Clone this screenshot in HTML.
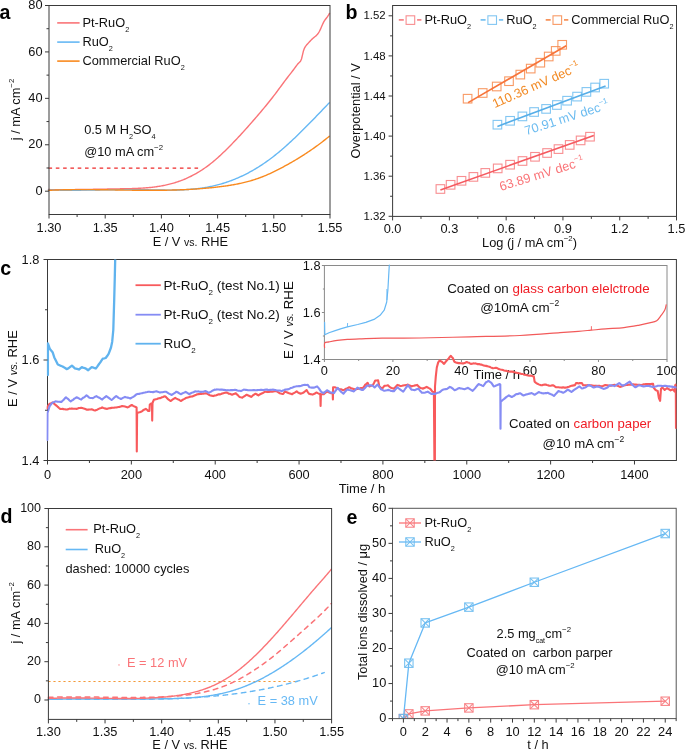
<!DOCTYPE html>
<html><head><meta charset="utf-8"><style>
html,body{margin:0;padding:0;background:#fff;overflow:hidden;}
svg{display:block;font-family:"Liberation Sans",sans-serif;will-change:transform;}
</style></head><body>
<svg width="685" height="750" viewBox="0 0 685 750">
<rect width="685" height="750" fill="#fff"/>
<text x="-0.6" y="18.6" font-size="19.6" text-anchor="start" fill="#000" font-weight="bold" >a</text>
<polyline points="48.5,189.56 49.5,189.57 50.5,189.58 51.5,189.59 52.5,189.6 53.5,189.61 54.5,189.62 55.5,189.62 56.5,189.63 57.5,189.63 58.5,189.64 59.5,189.64 60.5,189.64 61.5,189.64 62.5,189.64 63.5,189.64 64.5,189.64 65.5,189.63 66.5,189.63 67.5,189.63 68.5,189.62 69.5,189.61 70.5,189.61 71.5,189.6 72.5,189.59 73.5,189.59 74.5,189.58 75.5,189.57 76.5,189.56 77.5,189.55 78.5,189.54 79.5,189.52 80.5,189.51 81.5,189.5 82.5,189.49 83.5,189.47 84.5,189.46 85.5,189.44 86.5,189.43 87.5,189.41 88.5,189.4 89.5,189.38 90.5,189.37 91.5,189.35 92.5,189.33 93.5,189.32 94.5,189.3 95.5,189.28 96.5,189.26 97.5,189.24 98.5,189.23 99.5,189.21 100.5,189.19 101.5,189.17 102.5,189.15 103.5,189.13 104.5,189.11 105.5,189.1 106.5,189.08 107.5,189.06 108.5,189.04 109.5,189.02 110.5,189 111.5,188.98 112.5,188.96 113.5,188.94 114.5,188.92 115.5,188.9 116.5,188.89 117.5,188.87 118.5,188.85 119.5,188.83 120.5,188.81 121.5,188.8 122.5,188.78 123.5,188.76 124.5,188.74 125.5,188.72 126.5,188.7 127.5,188.68 128.5,188.66 129.5,188.63 130.5,188.61 131.5,188.58 132.5,188.55 133.5,188.52 134.5,188.48 135.5,188.45 136.5,188.41 137.5,188.36 138.5,188.32 139.5,188.27 140.5,188.21 141.5,188.16 142.5,188.1 143.5,188.03 144.5,187.96 145.5,187.89 146.5,187.81 147.5,187.72 148.5,187.63 149.5,187.54 150.5,187.44 151.5,187.33 152.5,187.22 153.5,187.1 154.5,186.97 155.5,186.84 156.5,186.7 157.5,186.55 158.5,186.4 159.5,186.24 160.5,186.07 161.5,185.9 162.5,185.71 163.5,185.52 164.5,185.32 165.5,185.11 166.5,184.89 167.5,184.67 168.5,184.43 169.5,184.18 170.5,183.93 171.5,183.66 172.5,183.39 173.5,183.1 174.5,182.81 175.5,182.5 176.5,182.18 177.5,181.86 178.5,181.52 179.5,181.17 180.5,180.8 181.5,180.43 182.5,180.04 183.5,179.65 184.5,179.23 185.5,178.81 186.5,178.38 187.5,177.93 188.5,177.47 189.5,176.99 190.5,176.5 191.5,176 192.5,175.49 193.5,174.96 194.5,174.42 195.5,173.87 196.5,173.3 197.5,172.71 198.5,172.12 199.5,171.51 200.5,170.88 201.5,170.24 202.5,169.58 203.5,168.92 204.5,168.23 205.5,167.53 206.5,166.82 207.5,166.09 208.5,165.34 209.5,164.58 210.5,163.81 211.5,163.01 212.5,162.21 213.5,161.38 214.5,160.54 215.5,159.69 216.5,158.82 217.5,157.94 218.5,157.04 219.5,156.13 220.5,155.21 221.5,154.28 222.5,153.33 223.5,152.37 224.5,151.41 225.5,150.43 226.5,149.45 227.5,148.46 228.5,147.46 229.5,146.45 230.5,145.43 231.5,144.41 232.5,143.38 233.5,142.34 234.5,141.3 235.5,140.25 236.5,139.19 237.5,138.13 238.5,137.06 239.5,135.98 240.5,134.9 241.5,133.81 242.5,132.71 243.5,131.61 244.5,130.51 245.5,129.4 246.5,128.28 247.5,127.16 248.5,126.03 249.5,124.9 250.5,123.77 251.5,122.63 252.5,121.48 253.5,120.33 254.5,119.18 255.5,118.02 256.5,116.86 257.5,115.7 258.5,114.53 259.5,113.36 260.5,112.18 261.5,111 262.5,109.82 263.5,108.62 264.5,107.42 265.5,106.21 266.5,104.99 267.5,103.77 268.5,102.53 269.5,101.28 270.5,100.03 271.5,98.76 272.5,97.48 273.5,96.18 274.5,94.87 275.5,93.55 276.5,92.21 277.5,90.87 278.5,89.52 279.5,88.17 280.5,86.81 281.5,85.46 282.5,84.11 283.5,82.76 284.5,81.42 285.5,80.1 286.5,78.78 287.5,77.48 288.5,76.19 289.5,74.9 290.5,73.62 291.5,72.33 292.5,71.03 293.5,69.71 294.5,68.38 295.5,67.03 296.5,65.66 297.5,64.33 298.5,63.18 299.5,62.32 300.5,61.29 301.5,59 302.5,54.83 303.5,50.67 304.5,48.04 305.5,46.35 306.5,45.09 307.5,43.98 308.5,42.86 309.5,41.75 310.5,40.66 311.5,39.63 312.5,38.69 313.5,37.84 314.5,37.06 315.5,36.26 316.5,35.36 317.5,34.28 318.5,32.94 319.5,31.26 320.5,29.17 321.5,26.81 322.5,24.46 323.5,22.35 324.5,20.65 325.5,19.23 326.5,17.95 327.5,16.65 328.5,15.18 329.5,13.41" fill="none" stroke="#fa7478" stroke-width="1.4" stroke-linejoin="round" stroke-linecap="round" />
<polyline points="48.5,189.93 49.5,189.96 50.5,189.99 51.5,190.01 52.5,190.04 53.5,190.06 54.5,190.08 55.5,190.1 56.5,190.12 57.5,190.14 58.5,190.15 59.5,190.17 60.5,190.18 61.5,190.19 62.5,190.2 63.5,190.21 64.5,190.21 65.5,190.22 66.5,190.23 67.5,190.23 68.5,190.23 69.5,190.23 70.5,190.23 71.5,190.23 72.5,190.23 73.5,190.23 74.5,190.22 75.5,190.22 76.5,190.21 77.5,190.21 78.5,190.2 79.5,190.19 80.5,190.18 81.5,190.17 82.5,190.16 83.5,190.15 84.5,190.14 85.5,190.13 86.5,190.12 87.5,190.11 88.5,190.09 89.5,190.08 90.5,190.07 91.5,190.05 92.5,190.04 93.5,190.02 94.5,190.01 95.5,189.99 96.5,189.98 97.5,189.96 98.5,189.95 99.5,189.93 100.5,189.92 101.5,189.9 102.5,189.89 103.5,189.87 104.5,189.85 105.5,189.84 106.5,189.82 107.5,189.81 108.5,189.79 109.5,189.78 110.5,189.77 111.5,189.75 112.5,189.74 113.5,189.73 114.5,189.72 115.5,189.7 116.5,189.69 117.5,189.68 118.5,189.67 119.5,189.66 120.5,189.65 121.5,189.65 122.5,189.64 123.5,189.63 124.5,189.63 125.5,189.62 126.5,189.62 127.5,189.61 128.5,189.61 129.5,189.61 130.5,189.61 131.5,189.61 132.5,189.61 133.5,189.62 134.5,189.62 135.5,189.63 136.5,189.64 137.5,189.64 138.5,189.65 139.5,189.66 140.5,189.68 141.5,189.69 142.5,189.7 143.5,189.72 144.5,189.74 145.5,189.75 146.5,189.77 147.5,189.79 148.5,189.81 149.5,189.83 150.5,189.85 151.5,189.87 152.5,189.89 153.5,189.91 154.5,189.93 155.5,189.94 156.5,189.96 157.5,189.98 158.5,190 159.5,190.01 160.5,190.03 161.5,190.04 162.5,190.05 163.5,190.06 164.5,190.07 165.5,190.08 166.5,190.08 167.5,190.09 168.5,190.09 169.5,190.09 170.5,190.08 171.5,190.08 172.5,190.07 173.5,190.06 174.5,190.04 175.5,190.03 176.5,190.01 177.5,189.98 178.5,189.96 179.5,189.93 180.5,189.89 181.5,189.85 182.5,189.81 183.5,189.77 184.5,189.72 185.5,189.66 186.5,189.6 187.5,189.54 188.5,189.47 189.5,189.4 190.5,189.32 191.5,189.24 192.5,189.16 193.5,189.06 194.5,188.96 195.5,188.86 196.5,188.75 197.5,188.64 198.5,188.52 199.5,188.39 200.5,188.26 201.5,188.12 202.5,187.97 203.5,187.82 204.5,187.66 205.5,187.49 206.5,187.32 207.5,187.14 208.5,186.95 209.5,186.76 210.5,186.56 211.5,186.35 212.5,186.13 213.5,185.91 214.5,185.67 215.5,185.43 216.5,185.19 217.5,184.93 218.5,184.66 219.5,184.39 220.5,184.11 221.5,183.82 222.5,183.52 223.5,183.22 224.5,182.9 225.5,182.58 226.5,182.25 227.5,181.91 228.5,181.56 229.5,181.21 230.5,180.84 231.5,180.47 232.5,180.09 233.5,179.7 234.5,179.3 235.5,178.89 236.5,178.47 237.5,178.05 238.5,177.61 239.5,177.17 240.5,176.72 241.5,176.25 242.5,175.78 243.5,175.3 244.5,174.81 245.5,174.31 246.5,173.81 247.5,173.29 248.5,172.76 249.5,172.23 250.5,171.68 251.5,171.13 252.5,170.56 253.5,169.99 254.5,169.41 255.5,168.82 256.5,168.21 257.5,167.6 258.5,166.98 259.5,166.35 260.5,165.71 261.5,165.05 262.5,164.39 263.5,163.72 264.5,163.04 265.5,162.35 266.5,161.65 267.5,160.94 268.5,160.21 269.5,159.48 270.5,158.74 271.5,157.99 272.5,157.22 273.5,156.45 274.5,155.67 275.5,154.87 276.5,154.07 277.5,153.26 278.5,152.43 279.5,151.6 280.5,150.76 281.5,149.91 282.5,149.05 283.5,148.19 284.5,147.31 285.5,146.43 286.5,145.53 287.5,144.64 288.5,143.73 289.5,142.81 290.5,141.89 291.5,140.97 292.5,140.03 293.5,139.09 294.5,138.14 295.5,137.19 296.5,136.23 297.5,135.26 298.5,134.29 299.5,133.32 300.5,132.33 301.5,131.35 302.5,130.36 303.5,129.36 304.5,128.36 305.5,127.36 306.5,126.35 307.5,125.34 308.5,124.32 309.5,123.31 310.5,122.29 311.5,121.26 312.5,120.23 313.5,119.2 314.5,118.17 315.5,117.14 316.5,116.1 317.5,115.07 318.5,114.03 319.5,112.99 320.5,111.95 321.5,110.9 322.5,109.86 323.5,108.82 324.5,107.77 325.5,106.73 326.5,105.69 327.5,104.64 328.5,103.6 329.2,102.87" fill="none" stroke="#66b8f4" stroke-width="1.4" stroke-linejoin="round" stroke-linecap="round" />
<polyline points="48.5,190.33 49.5,190.28 50.5,190.24 51.5,190.19 52.5,190.15 53.5,190.12 54.5,190.08 55.5,190.04 56.5,190.01 57.5,189.98 58.5,189.95 59.5,189.92 60.5,189.89 61.5,189.86 62.5,189.84 63.5,189.82 64.5,189.8 65.5,189.77 66.5,189.76 67.5,189.74 68.5,189.72 69.5,189.71 70.5,189.69 71.5,189.68 72.5,189.67 73.5,189.66 74.5,189.65 75.5,189.64 76.5,189.64 77.5,189.63 78.5,189.62 79.5,189.62 80.5,189.62 81.5,189.62 82.5,189.62 83.5,189.62 84.5,189.62 85.5,189.62 86.5,189.62 87.5,189.62 88.5,189.63 89.5,189.63 90.5,189.64 91.5,189.65 92.5,189.65 93.5,189.66 94.5,189.67 95.5,189.68 96.5,189.69 97.5,189.7 98.5,189.71 99.5,189.72 100.5,189.73 101.5,189.74 102.5,189.75 103.5,189.77 104.5,189.78 105.5,189.79 106.5,189.81 107.5,189.82 108.5,189.84 109.5,189.85 110.5,189.86 111.5,189.88 112.5,189.89 113.5,189.91 114.5,189.92 115.5,189.94 116.5,189.96 117.5,189.97 118.5,189.99 119.5,190 120.5,190.02 121.5,190.03 122.5,190.05 123.5,190.06 124.5,190.08 125.5,190.09 126.5,190.1 127.5,190.12 128.5,190.13 129.5,190.14 130.5,190.16 131.5,190.17 132.5,190.18 133.5,190.19 134.5,190.21 135.5,190.22 136.5,190.23 137.5,190.24 138.5,190.25 139.5,190.26 140.5,190.26 141.5,190.27 142.5,190.28 143.5,190.28 144.5,190.29 145.5,190.29 146.5,190.3 147.5,190.3 148.5,190.3 149.5,190.31 150.5,190.31 151.5,190.31 152.5,190.31 153.5,190.3 154.5,190.3 155.5,190.3 156.5,190.29 157.5,190.29 158.5,190.28 159.5,190.27 160.5,190.26 161.5,190.25 162.5,190.24 163.5,190.23 164.5,190.21 165.5,190.2 166.5,190.18 167.5,190.16 168.5,190.14 169.5,190.12 170.5,190.1 171.5,190.08 172.5,190.05 173.5,190.03 174.5,190 175.5,189.97 176.5,189.94 177.5,189.91 178.5,189.87 179.5,189.84 180.5,189.8 181.5,189.76 182.5,189.72 183.5,189.68 184.5,189.63 185.5,189.59 186.5,189.54 187.5,189.49 188.5,189.44 189.5,189.38 190.5,189.33 191.5,189.27 192.5,189.21 193.5,189.15 194.5,189.09 195.5,189.02 196.5,188.96 197.5,188.89 198.5,188.81 199.5,188.74 200.5,188.67 201.5,188.59 202.5,188.51 203.5,188.42 204.5,188.34 205.5,188.25 206.5,188.16 207.5,188.07 208.5,187.98 209.5,187.88 210.5,187.78 211.5,187.68 212.5,187.57 213.5,187.47 214.5,187.36 215.5,187.25 216.5,187.13 217.5,187.02 218.5,186.9 219.5,186.77 220.5,186.65 221.5,186.52 222.5,186.39 223.5,186.26 224.5,186.12 225.5,185.98 226.5,185.83 227.5,185.69 228.5,185.53 229.5,185.38 230.5,185.22 231.5,185.05 232.5,184.88 233.5,184.71 234.5,184.53 235.5,184.34 236.5,184.15 237.5,183.96 238.5,183.76 239.5,183.55 240.5,183.33 241.5,183.11 242.5,182.89 243.5,182.66 244.5,182.42 245.5,182.17 246.5,181.92 247.5,181.66 248.5,181.39 249.5,181.11 250.5,180.83 251.5,180.54 252.5,180.24 253.5,179.93 254.5,179.61 255.5,179.29 256.5,178.95 257.5,178.61 258.5,178.26 259.5,177.9 260.5,177.53 261.5,177.15 262.5,176.76 263.5,176.36 264.5,175.95 265.5,175.53 266.5,175.11 267.5,174.67 268.5,174.23 269.5,173.78 270.5,173.32 271.5,172.86 272.5,172.39 273.5,171.91 274.5,171.42 275.5,170.93 276.5,170.43 277.5,169.93 278.5,169.41 279.5,168.9 280.5,168.38 281.5,167.85 282.5,167.31 283.5,166.78 284.5,166.24 285.5,165.69 286.5,165.14 287.5,164.58 288.5,164.02 289.5,163.46 290.5,162.89 291.5,162.32 292.5,161.74 293.5,161.16 294.5,160.57 295.5,159.98 296.5,159.38 297.5,158.78 298.5,158.17 299.5,157.56 300.5,156.94 301.5,156.31 302.5,155.68 303.5,155.04 304.5,154.4 305.5,153.75 306.5,153.1 307.5,152.44 308.5,151.77 309.5,151.1 310.5,150.42 311.5,149.73 312.5,149.03 313.5,148.33 314.5,147.63 315.5,146.91 316.5,146.19 317.5,145.46 318.5,144.72 319.5,143.98 320.5,143.23 321.5,142.47 322.5,141.7 323.5,140.92 324.5,140.14 325.5,139.35 326.5,138.55 327.5,137.74 328.5,136.93 329.2,136.35" fill="none" stroke="#f98a1f" stroke-width="1.4" stroke-linejoin="round" stroke-linecap="round" />
<line x1="48.5" y1="168.2" x2="198.5" y2="168.2" stroke="#ee2a2a" stroke-width="1.2" stroke-dasharray="3.6 3.7"/>
<rect x="49" y="5.5" width="281" height="209" fill="none" stroke="#3a3a3a" stroke-width="1.0"/>
<line x1="49" y1="214.5" x2="49" y2="218.5" stroke="#3a3a3a" stroke-width="1.0" />
<line x1="105.2" y1="214.5" x2="105.2" y2="218.5" stroke="#3a3a3a" stroke-width="1.0" />
<line x1="161.4" y1="214.5" x2="161.4" y2="218.5" stroke="#3a3a3a" stroke-width="1.0" />
<line x1="217.6" y1="214.5" x2="217.6" y2="218.5" stroke="#3a3a3a" stroke-width="1.0" />
<line x1="273.8" y1="214.5" x2="273.8" y2="218.5" stroke="#3a3a3a" stroke-width="1.0" />
<line x1="330" y1="214.5" x2="330" y2="218.5" stroke="#3a3a3a" stroke-width="1.0" />
<line x1="77.1" y1="214.5" x2="77.1" y2="217" stroke="#3a3a3a" stroke-width="1.0" />
<line x1="133.3" y1="214.5" x2="133.3" y2="217" stroke="#3a3a3a" stroke-width="1.0" />
<line x1="189.5" y1="214.5" x2="189.5" y2="217" stroke="#3a3a3a" stroke-width="1.0" />
<line x1="245.7" y1="214.5" x2="245.7" y2="217" stroke="#3a3a3a" stroke-width="1.0" />
<line x1="301.9" y1="214.5" x2="301.9" y2="217" stroke="#3a3a3a" stroke-width="1.0" />
<line x1="45" y1="191.2" x2="49" y2="191.2" stroke="#3a3a3a" stroke-width="1.0" />
<line x1="45" y1="144.77" x2="49" y2="144.77" stroke="#3a3a3a" stroke-width="1.0" />
<line x1="45" y1="98.35" x2="49" y2="98.35" stroke="#3a3a3a" stroke-width="1.0" />
<line x1="45" y1="51.92" x2="49" y2="51.92" stroke="#3a3a3a" stroke-width="1.0" />
<line x1="45" y1="5.5" x2="49" y2="5.5" stroke="#3a3a3a" stroke-width="1.0" />
<line x1="46.5" y1="167.99" x2="49" y2="167.99" stroke="#3a3a3a" stroke-width="1.0" />
<line x1="46.5" y1="121.56" x2="49" y2="121.56" stroke="#3a3a3a" stroke-width="1.0" />
<line x1="46.5" y1="75.13" x2="49" y2="75.13" stroke="#3a3a3a" stroke-width="1.0" />
<line x1="46.5" y1="28.71" x2="49" y2="28.71" stroke="#3a3a3a" stroke-width="1.0" />
<text x="49" y="231.8" font-size="12.8" text-anchor="middle" fill="#111" font-weight="normal" >1.30</text>
<text x="105.2" y="231.8" font-size="12.8" text-anchor="middle" fill="#111" font-weight="normal" >1.35</text>
<text x="161.4" y="231.8" font-size="12.8" text-anchor="middle" fill="#111" font-weight="normal" >1.40</text>
<text x="217.6" y="231.8" font-size="12.8" text-anchor="middle" fill="#111" font-weight="normal" >1.45</text>
<text x="273.8" y="231.8" font-size="12.8" text-anchor="middle" fill="#111" font-weight="normal" >1.50</text>
<text x="330" y="231.8" font-size="12.8" text-anchor="middle" fill="#111" font-weight="normal" >1.55</text>
<text x="42.5" y="194.8" font-size="12.8" text-anchor="end" fill="#111" font-weight="normal" >0</text>
<text x="42.5" y="148.37" font-size="12.8" text-anchor="end" fill="#111" font-weight="normal" >20</text>
<text x="42.5" y="101.95" font-size="12.8" text-anchor="end" fill="#111" font-weight="normal" >40</text>
<text x="42.5" y="55.52" font-size="12.8" text-anchor="end" fill="#111" font-weight="normal" >60</text>
<text x="42.5" y="9.1" font-size="12.8" text-anchor="end" fill="#111" font-weight="normal" >80</text>
<text x="190.3" y="246.1" font-size="12.8" text-anchor="middle" fill="#111" font-weight="normal" >E / V <tspan font-size="10.5">vs.</tspan> RHE</text>
<text transform="translate(20.3,109.5) rotate(-90)" font-size="12.8" text-anchor="middle" fill="#111">j / mA cm<tspan font-size="7.8" baseline-shift="6.3">&#8722;2</tspan></text>
<line x1="57.2" y1="22.9" x2="79.6" y2="22.9" stroke="#fa7478" stroke-width="1.6" />
<text x="82.5" y="27.2" font-size="12.8" text-anchor="start" fill="#111" font-weight="normal" >Pt-RuO<tspan font-size="7.3" baseline-shift="-4.6">2</tspan></text>
<line x1="57.2" y1="42.1" x2="79.6" y2="42.1" stroke="#66b8f4" stroke-width="1.6" />
<text x="82.5" y="46.4" font-size="12.8" text-anchor="start" fill="#111" font-weight="normal" >RuO<tspan font-size="7.3" baseline-shift="-4.6">2</tspan></text>
<line x1="57.2" y1="61.1" x2="79.6" y2="61.1" stroke="#f98a1f" stroke-width="1.6" />
<text x="82.5" y="65.4" font-size="12.8" text-anchor="start" fill="#111" font-weight="normal" >Commercial RuO<tspan font-size="7.3" baseline-shift="-4.6">2</tspan></text>
<text x="84.2" y="134.2" font-size="12.8" text-anchor="start" fill="#111" font-weight="normal" >0.5 M H<tspan font-size="7.3" baseline-shift="-4.6">2</tspan>SO<tspan font-size="7.3" baseline-shift="-4.6">4</tspan></text>
<text x="84.2" y="156" font-size="12.8" text-anchor="start" fill="#111" font-weight="normal" >@10 mA cm<tspan font-size="7.8" baseline-shift="6.3">&#8722;2</tspan></text>
<text x="345.4" y="18.9" font-size="19.6" text-anchor="start" fill="#000" font-weight="bold" >b</text>
<rect x="463.3" y="94.4" width="8.6" height="8.6" fill="none" stroke="#f7884a" stroke-width="1.1" opacity="0.85"/>
<rect x="478.4" y="88.7" width="8.6" height="8.6" fill="none" stroke="#f7884a" stroke-width="1.1" opacity="0.85"/>
<rect x="492.4" y="82.2" width="8.6" height="8.6" fill="none" stroke="#f7884a" stroke-width="1.1" opacity="0.85"/>
<rect x="504.7" y="76.9" width="8.6" height="8.6" fill="none" stroke="#f7884a" stroke-width="1.1" opacity="0.85"/>
<rect x="516" y="70.3" width="8.6" height="8.6" fill="none" stroke="#f7884a" stroke-width="1.1" opacity="0.85"/>
<rect x="526.4" y="64.3" width="8.6" height="8.6" fill="none" stroke="#f7884a" stroke-width="1.1" opacity="0.85"/>
<rect x="536" y="58.4" width="8.6" height="8.6" fill="none" stroke="#f7884a" stroke-width="1.1" opacity="0.85"/>
<rect x="544.4" y="52.2" width="8.6" height="8.6" fill="none" stroke="#f7884a" stroke-width="1.1" opacity="0.85"/>
<rect x="551.4" y="46.6" width="8.6" height="8.6" fill="none" stroke="#f7884a" stroke-width="1.1" opacity="0.85"/>
<rect x="557.9" y="40.5" width="8.6" height="8.6" fill="none" stroke="#f7884a" stroke-width="1.1" opacity="0.85"/>
<rect x="493.1" y="120.4" width="8.6" height="8.6" fill="none" stroke="#6cbcf0" stroke-width="1.1" opacity="0.85"/>
<rect x="505.8" y="116.5" width="8.6" height="8.6" fill="none" stroke="#6cbcf0" stroke-width="1.1" opacity="0.85"/>
<rect x="518.1" y="112.1" width="8.6" height="8.6" fill="none" stroke="#6cbcf0" stroke-width="1.1" opacity="0.85"/>
<rect x="529.8" y="107.7" width="8.6" height="8.6" fill="none" stroke="#6cbcf0" stroke-width="1.1" opacity="0.85"/>
<rect x="541.8" y="104.6" width="8.6" height="8.6" fill="none" stroke="#6cbcf0" stroke-width="1.1" opacity="0.85"/>
<rect x="552.6" y="100.7" width="8.6" height="8.6" fill="none" stroke="#6cbcf0" stroke-width="1.1" opacity="0.85"/>
<rect x="562.8" y="96.4" width="8.6" height="8.6" fill="none" stroke="#6cbcf0" stroke-width="1.1" opacity="0.85"/>
<rect x="572.8" y="92.3" width="8.6" height="8.6" fill="none" stroke="#6cbcf0" stroke-width="1.1" opacity="0.85"/>
<rect x="582.1" y="87.6" width="8.6" height="8.6" fill="none" stroke="#6cbcf0" stroke-width="1.1" opacity="0.85"/>
<rect x="590.8" y="83.2" width="8.6" height="8.6" fill="none" stroke="#6cbcf0" stroke-width="1.1" opacity="0.85"/>
<rect x="599.9" y="79.4" width="8.6" height="8.6" fill="none" stroke="#6cbcf0" stroke-width="1.1" opacity="0.85"/>
<rect x="436.1" y="184.7" width="8.6" height="8.6" fill="none" stroke="#f77a7e" stroke-width="1.1" opacity="0.85"/>
<rect x="446.3" y="180.5" width="8.6" height="8.6" fill="none" stroke="#f77a7e" stroke-width="1.1" opacity="0.85"/>
<rect x="457.2" y="176.5" width="8.6" height="8.6" fill="none" stroke="#f77a7e" stroke-width="1.1" opacity="0.85"/>
<rect x="469.1" y="172.6" width="8.6" height="8.6" fill="none" stroke="#f77a7e" stroke-width="1.1" opacity="0.85"/>
<rect x="481" y="168.6" width="8.6" height="8.6" fill="none" stroke="#f77a7e" stroke-width="1.1" opacity="0.85"/>
<rect x="493.4" y="164.1" width="8.6" height="8.6" fill="none" stroke="#f77a7e" stroke-width="1.1" opacity="0.85"/>
<rect x="505.8" y="160.4" width="8.6" height="8.6" fill="none" stroke="#f77a7e" stroke-width="1.1" opacity="0.85"/>
<rect x="518.2" y="156.7" width="8.6" height="8.6" fill="none" stroke="#f77a7e" stroke-width="1.1" opacity="0.85"/>
<rect x="530.7" y="152.5" width="8.6" height="8.6" fill="none" stroke="#f77a7e" stroke-width="1.1" opacity="0.85"/>
<rect x="542.8" y="148.7" width="8.6" height="8.6" fill="none" stroke="#f77a7e" stroke-width="1.1" opacity="0.85"/>
<rect x="554.2" y="144.8" width="8.6" height="8.6" fill="none" stroke="#f77a7e" stroke-width="1.1" opacity="0.85"/>
<rect x="565.4" y="140.6" width="8.6" height="8.6" fill="none" stroke="#f77a7e" stroke-width="1.1" opacity="0.85"/>
<rect x="576.3" y="136.1" width="8.6" height="8.6" fill="none" stroke="#f77a7e" stroke-width="1.1" opacity="0.85"/>
<rect x="585.7" y="132.4" width="8.6" height="8.6" fill="none" stroke="#f77a7e" stroke-width="1.1" opacity="0.85"/>
<line x1="468.1" y1="102.6" x2="566.2" y2="45.7" stroke="#f7743a" stroke-width="1.6" />
<line x1="497.4" y1="126.4" x2="605.6" y2="86.1" stroke="#56aee8" stroke-width="1.6" />
<line x1="440.4" y1="190" x2="593.8" y2="135.4" stroke="#f55a60" stroke-width="1.6" />
<rect x="392.6" y="5.5" width="283.9" height="210.9" fill="none" stroke="#3a3a3a" stroke-width="1.0"/>
<line x1="392.6" y1="216.4" x2="392.6" y2="220.4" stroke="#3a3a3a" stroke-width="1.0" />
<line x1="449.38" y1="216.4" x2="449.38" y2="220.4" stroke="#3a3a3a" stroke-width="1.0" />
<line x1="506.16" y1="216.4" x2="506.16" y2="220.4" stroke="#3a3a3a" stroke-width="1.0" />
<line x1="562.94" y1="216.4" x2="562.94" y2="220.4" stroke="#3a3a3a" stroke-width="1.0" />
<line x1="619.72" y1="216.4" x2="619.72" y2="220.4" stroke="#3a3a3a" stroke-width="1.0" />
<line x1="676.51" y1="216.4" x2="676.51" y2="220.4" stroke="#3a3a3a" stroke-width="1.0" />
<line x1="420.99" y1="216.4" x2="420.99" y2="218.9" stroke="#3a3a3a" stroke-width="1.0" />
<line x1="477.77" y1="216.4" x2="477.77" y2="218.9" stroke="#3a3a3a" stroke-width="1.0" />
<line x1="534.55" y1="216.4" x2="534.55" y2="218.9" stroke="#3a3a3a" stroke-width="1.0" />
<line x1="591.33" y1="216.4" x2="591.33" y2="218.9" stroke="#3a3a3a" stroke-width="1.0" />
<line x1="648.11" y1="216.4" x2="648.11" y2="218.9" stroke="#3a3a3a" stroke-width="1.0" />
<line x1="388.6" y1="216.3" x2="392.6" y2="216.3" stroke="#3a3a3a" stroke-width="1.0" />
<line x1="388.6" y1="176.2" x2="392.6" y2="176.2" stroke="#3a3a3a" stroke-width="1.0" />
<line x1="388.6" y1="136.1" x2="392.6" y2="136.1" stroke="#3a3a3a" stroke-width="1.0" />
<line x1="388.6" y1="96" x2="392.6" y2="96" stroke="#3a3a3a" stroke-width="1.0" />
<line x1="388.6" y1="55.9" x2="392.6" y2="55.9" stroke="#3a3a3a" stroke-width="1.0" />
<line x1="388.6" y1="15.8" x2="392.6" y2="15.8" stroke="#3a3a3a" stroke-width="1.0" />
<line x1="390.1" y1="196.25" x2="392.6" y2="196.25" stroke="#3a3a3a" stroke-width="1.0" />
<line x1="390.1" y1="156.15" x2="392.6" y2="156.15" stroke="#3a3a3a" stroke-width="1.0" />
<line x1="390.1" y1="116.05" x2="392.6" y2="116.05" stroke="#3a3a3a" stroke-width="1.0" />
<line x1="390.1" y1="75.95" x2="392.6" y2="75.95" stroke="#3a3a3a" stroke-width="1.0" />
<line x1="390.1" y1="35.85" x2="392.6" y2="35.85" stroke="#3a3a3a" stroke-width="1.0" />
<text x="392.6" y="233.2" font-size="12.8" text-anchor="middle" fill="#111" font-weight="normal" >0.0</text>
<text x="449.38" y="233.2" font-size="12.8" text-anchor="middle" fill="#111" font-weight="normal" >0.3</text>
<text x="506.16" y="233.2" font-size="12.8" text-anchor="middle" fill="#111" font-weight="normal" >0.6</text>
<text x="562.94" y="233.2" font-size="12.8" text-anchor="middle" fill="#111" font-weight="normal" >0.9</text>
<text x="619.72" y="233.2" font-size="12.8" text-anchor="middle" fill="#111" font-weight="normal" >1.2</text>
<text x="676.51" y="233.2" font-size="12.8" text-anchor="middle" fill="#111" font-weight="normal" >1.5</text>
<text x="385.6" y="219.9" font-size="11.4" text-anchor="end" fill="#111" font-weight="normal" >1.32</text>
<text x="385.6" y="179.8" font-size="11.4" text-anchor="end" fill="#111" font-weight="normal" >1.36</text>
<text x="385.6" y="139.7" font-size="11.4" text-anchor="end" fill="#111" font-weight="normal" >1.40</text>
<text x="385.6" y="99.6" font-size="11.4" text-anchor="end" fill="#111" font-weight="normal" >1.44</text>
<text x="385.6" y="59.5" font-size="11.4" text-anchor="end" fill="#111" font-weight="normal" >1.48</text>
<text x="385.6" y="19.4" font-size="11.4" text-anchor="end" fill="#111" font-weight="normal" >1.52</text>
<text x="529.5" y="246.5" font-size="12.8" text-anchor="middle" fill="#111" font-weight="normal" >Log (j / mA cm<tspan font-size="7.8" baseline-shift="6.3">&#8722;2</tspan>)</text>
<text transform="translate(359.9,110.9) rotate(-90)" font-size="12.8" text-anchor="middle" fill="#111">Overpotential / V</text>
<line x1="398.8" y1="19.9" x2="403.8" y2="19.9" stroke="#f77a7e" stroke-width="1.6" />
<line x1="417.1" y1="19.9" x2="421.4" y2="19.9" stroke="#f77a7e" stroke-width="1.6" />
<rect x="406.1" y="15.8" width="8.6" height="8.6" fill="none" stroke="#f77a7e" stroke-width="1.1" opacity="0.85"/>
<text x="424.4" y="23.9" font-size="12.8" text-anchor="start" fill="#111" font-weight="normal" >Pt-RuO<tspan font-size="7.3" baseline-shift="-4.6">2</tspan></text>
<line x1="480.6" y1="19.9" x2="485.6" y2="19.9" stroke="#6cbcf0" stroke-width="1.6" />
<line x1="498.9" y1="19.9" x2="503.2" y2="19.9" stroke="#6cbcf0" stroke-width="1.6" />
<rect x="487.9" y="15.8" width="8.6" height="8.6" fill="none" stroke="#6cbcf0" stroke-width="1.1" opacity="0.85"/>
<text x="506.2" y="23.9" font-size="12.8" text-anchor="start" fill="#111" font-weight="normal" >RuO<tspan font-size="7.3" baseline-shift="-4.6">2</tspan></text>
<line x1="545.7" y1="19.9" x2="550.7" y2="19.9" stroke="#f7884a" stroke-width="1.6" />
<line x1="564" y1="19.9" x2="568.3" y2="19.9" stroke="#f7884a" stroke-width="1.6" />
<rect x="553" y="15.8" width="8.6" height="8.6" fill="none" stroke="#f7884a" stroke-width="1.1" opacity="0.85"/>
<text x="571.3" y="23.9" font-size="12.8" text-anchor="start" fill="#111" font-weight="normal" >Commercial RuO<tspan font-size="7.3" baseline-shift="-4.6">2</tspan></text>
<text transform="translate(500.95,190.9) rotate(-17.2)" font-size="12.8" fill="#fa7478">63.89 mV dec<tspan font-size="7.8" baseline-shift="6.3">&#8722;1</tspan></text>
<text transform="translate(526.2,135.3) rotate(-17.9)" font-size="12.8" fill="#6cbcf0">70.91 mV dec<tspan font-size="7.8" baseline-shift="6.3">&#8722;1</tspan></text>
<text transform="translate(494.7,108.3) rotate(-24)" font-size="12.8" fill="#f28a24">110.36 mV dec<tspan font-size="7.8" baseline-shift="6.3">&#8722;1</tspan></text>
<text x="0.3" y="275.2" font-size="19.6" text-anchor="start" fill="#000" font-weight="bold" >c</text>
<rect x="324.4" y="265.5" width="342.6" height="94" fill="none" stroke="#8a8a8a" stroke-width="1.0"/>
<line x1="324.4" y1="359.5" x2="324.4" y2="362" stroke="#8a8a8a" stroke-width="1.0" />
<line x1="392.92" y1="359.5" x2="392.92" y2="362" stroke="#8a8a8a" stroke-width="1.0" />
<line x1="461.44" y1="359.5" x2="461.44" y2="362" stroke="#8a8a8a" stroke-width="1.0" />
<line x1="529.96" y1="359.5" x2="529.96" y2="362" stroke="#8a8a8a" stroke-width="1.0" />
<line x1="598.48" y1="359.5" x2="598.48" y2="362" stroke="#8a8a8a" stroke-width="1.0" />
<line x1="667" y1="359.5" x2="667" y2="362" stroke="#8a8a8a" stroke-width="1.0" />
<line x1="358.66" y1="359.5" x2="358.66" y2="361" stroke="#8a8a8a" stroke-width="1.0" />
<line x1="427.18" y1="359.5" x2="427.18" y2="361" stroke="#8a8a8a" stroke-width="1.0" />
<line x1="495.7" y1="359.5" x2="495.7" y2="361" stroke="#8a8a8a" stroke-width="1.0" />
<line x1="564.22" y1="359.5" x2="564.22" y2="361" stroke="#8a8a8a" stroke-width="1.0" />
<line x1="632.74" y1="359.5" x2="632.74" y2="361" stroke="#8a8a8a" stroke-width="1.0" />
<line x1="321.9" y1="359.5" x2="324.4" y2="359.5" stroke="#8a8a8a" stroke-width="1.0" />
<line x1="321.9" y1="312.5" x2="324.4" y2="312.5" stroke="#8a8a8a" stroke-width="1.0" />
<line x1="321.9" y1="265.5" x2="324.4" y2="265.5" stroke="#8a8a8a" stroke-width="1.0" />
<line x1="322.9" y1="336" x2="324.4" y2="336" stroke="#8a8a8a" stroke-width="1.0" />
<line x1="322.9" y1="289" x2="324.4" y2="289" stroke="#8a8a8a" stroke-width="1.0" />
<text x="324.4" y="374.5" font-size="12.8" text-anchor="middle" fill="#111" font-weight="normal" >0</text>
<text x="392.92" y="374.5" font-size="12.8" text-anchor="middle" fill="#111" font-weight="normal" >20</text>
<text x="461.44" y="374.5" font-size="12.8" text-anchor="middle" fill="#111" font-weight="normal" >40</text>
<text x="529.96" y="374.5" font-size="12.8" text-anchor="middle" fill="#111" font-weight="normal" >60</text>
<text x="598.48" y="374.5" font-size="12.8" text-anchor="middle" fill="#111" font-weight="normal" >80</text>
<text x="667" y="374.5" font-size="12.8" text-anchor="middle" fill="#111" font-weight="normal" >100</text>
<text x="320.5" y="363.9" font-size="12.8" text-anchor="end" fill="#111" font-weight="normal" >1.4</text>
<text x="320.5" y="316.9" font-size="12.8" text-anchor="end" fill="#111" font-weight="normal" >1.6</text>
<text x="320.5" y="269.9" font-size="12.8" text-anchor="end" fill="#111" font-weight="normal" >1.8</text>
<text x="473.6" y="379" font-size="13" text-anchor="start" fill="#111" font-weight="normal" >Time / h</text>
<text transform="translate(293.3,320.1) rotate(-90)" font-size="13.3" text-anchor="middle" fill="#111">E / V <tspan font-style="italic" font-size="10.5">vs.</tspan> RHE</text>
<polyline points="324.6,322.4 324.8,334.7 329,332.7 335.2,330.6 341.3,328.6 347.4,326.9 357.7,324.5 365.8,322.4 374,319.4 380.1,315.3 384.2,310.2 386.7,302 387.9,289.7 388.7,275.4 389.3,265.2" fill="none" stroke="#66b8f4" stroke-width="1.2" stroke-linejoin="round" stroke-linecap="round" />
<line x1="347.4" y1="327" x2="347.6" y2="323" stroke="#66b8f4" stroke-width="0.9" />
<line x1="386.9" y1="300" x2="386.9" y2="289" stroke="#66b8f4" stroke-width="0.9" />
<path d="M324.6,348 C324.63,347.15 324.07,343.92 324.8,342.9 C325.53,341.88 326.93,342.32 329,341.9 C331.07,341.48 334.13,340.82 337.2,340.4 C340.27,339.98 343.32,339.67 347.4,339.4 C351.48,339.13 355.9,339 361.7,338.8 C367.5,338.6 372.48,338.33 382.2,338.2 C391.92,338.07 405.37,338.23 420,338 C434.63,337.77 453.33,337.22 470,336.8 C486.67,336.38 505,336.2 520,335.5 C535,334.8 550.3,333.3 560,332.6 C569.7,331.9 573.03,331.7 578.2,331.3 C583.37,330.9 586.43,330.6 591,330.2 C595.57,329.8 600.12,329.33 605.6,328.9 C611.08,328.47 618.42,328.2 623.9,327.6 C629.38,327 634.25,326.08 638.5,325.3 C642.75,324.52 646.37,323.67 649.4,322.9 C652.43,322.13 654.72,321.98 656.7,320.7 C658.68,319.42 659.93,317.03 661.3,315.2 C662.67,313.37 664.07,311.52 664.9,309.7 C665.73,307.88 666.07,305.2 666.3,304.3" fill="none" stroke="#f25a5a" stroke-width="1.2" stroke-linejoin="round" />
<line x1="591.4" y1="330.2" x2="591.4" y2="326.2" stroke="#f25a5a" stroke-width="0.9" />
<rect x="47.5" y="259.5" width="628.9" height="201" fill="none" stroke="#3a3a3a" stroke-width="1.0"/>
<clipPath id="cc"><rect x="46.5" y="259.5" width="630" height="201"/></clipPath>
<g clip-path="url(#cc)">
<polyline points="47.3,408.5 47.5,406.6 48.6,405.17 49.7,403.7 51.15,403.15 52.6,402.5 54.05,403.72 55.5,404.9 56.67,405.81 57.85,406.91 59.03,407.94 60.2,408.9 61.36,409.05 62.52,408.86 63.68,409.12 64.84,409.25 66,409.5 67.18,409.38 68.36,409.19 69.54,408.55 70.72,408.68 71.9,408.4 73.05,408.68 74.2,408.76 75.35,408.82 76.5,408.9 77.67,408.5 78.85,408.01 80.03,408.07 81.2,407.8 82.36,408.06 83.52,408.39 84.68,408.82 85.84,409.25 87,409.8 88.17,409.66 89.35,409.51 90.53,409.53 91.7,409.3 92.87,409.72 94.03,410.15 95.2,410.5 96.2,410.09 97.2,409.7 98.2,409.14 99.2,408.62 100.2,408.21 101.2,408.01 102.2,407.4 103.38,407.93 104.55,408.38 105.73,408.6 106.9,408.9 108.06,408.6 109.22,408.28 110.38,408.09 111.54,407.88 112.7,407.8 113.88,407.7 115.05,407.45 116.23,407.47 117.4,407.2 118.58,406.97 119.75,406.9 120.92,406.42 122.1,406 123.55,406.19 125,406.6 126.4,407.01 127.8,407.4 128.8,406.92 129.8,406.13 130.8,405.48 131.8,405 133.2,405.85 134.6,406.6 135.6,406.93 136.6,407.4 136.8,451.4 137.1,413 138.4,412.53 139.7,412.29 141,411.8 142.2,411.1 143.4,410.03 144.6,409.46 145.8,408.8 147,409.75 148.2,411 149.4,411 149.8,404.6 151.4,403.4 152,403.2 152.2,420.6 152.5,403 153.8,399.8 154.87,399.44 155.93,399.23 157,399 158,398.59 159,398.3 160,398.14 161,397.8 162,397.31 163,396.94 164,396.51 165,396.2 166.1,397.1 167.2,398.44 168.3,399.32 169.4,400.09 170.5,401 171.68,400.33 172.85,399.29 174.02,398.53 175.2,397.8 176.38,398.56 177.56,399.19 178.74,399.56 179.92,400.33 181.1,401 182.25,400.18 183.4,399.38 184.55,398.83 185.7,398.1 186.7,397.8 187.7,397.48 188.7,397.2 189.7,396.83 190.7,396.59 191.7,396.53 192.7,396.4 193.88,395.78 195.05,395.25 196.22,394.77 197.4,394.2 198.7,394.08 200,394 201.16,393.9 202.32,393.69 203.48,393.58 204.64,393.49 205.8,393.2 206.8,393.59 207.8,394.08 208.8,394.7 209.88,395.18 210.95,395.61 212.03,395.68 213.1,396.1 214.2,395.67 215.3,395.57 216.4,395.19 217.5,394.7 218.68,394.33 219.86,394.41 221.04,394.07 222.22,393.57 223.4,393.2 224.85,392.79 226.3,392.5 227.46,392.79 228.62,393.68 229.78,393.77 230.94,394.23 232.1,394.7 233.33,394.12 234.57,393.8 235.8,393.2 237,394.42 238.2,395.59 239.4,396.9 240.85,397.33 242.3,397.6 243.4,396.77 244.5,396.06 245.6,395.46 246.7,394.7 247.8,395.31 248.9,395.8 250,396.28 251.1,396.9 252.2,396.08 253.3,395.06 254.4,394.33 255.5,393.7 256.95,394.52 258.4,395.4 259.5,394.66 260.6,393.99 261.7,393.51 262.8,393.01 263.9,392.37 265,391.8 266,391.74 267,391.87 268,392.08 269,391.97 270,391.8 271.18,391.72 272.36,391.65 273.54,391.44 274.72,391.16 275.9,391.1 277.13,391.64 278.37,392.33 279.6,393.2 280.8,393.56 282,393.84 283.2,394 285,391.4 286.15,391.99 287.3,392.5 288.48,393.02 289.65,393.39 290.82,393.85 292,394.3 293.18,393.43 294.35,392.81 295.52,392.17 296.7,391.4 297.87,392.31 299.03,393.02 300.2,393.7 301.37,393.38 302.53,393.01 303.7,392.5 305.15,391.2 306.6,390 307.75,391.97 308.9,393.7 310.07,394.12 311.23,394.27 312.4,394.6 313.42,394.19 314.45,393.8 315.48,393.06 316.5,392.5 317.77,393.13 319.03,393.66 320.3,394.3 320.6,406 320.9,394.3 322.2,394.31 323.5,394.3 324.67,393.38 325.83,392.51 327,391.4 328.17,392.09 329.33,392.61 330.5,393.1 331.6,393.08 332.7,393 332.9,399.5 333.1,387.3 334.15,387.32 335.2,387.3 336.37,387.96 337.53,388.42 338.7,389 339.88,389.39 341.05,389.3 342.22,389.87 343.4,390.2 344.56,389.61 345.72,388.85 346.88,388.54 348.04,387.91 349.2,387.3 350.38,387.8 351.56,388.5 352.74,388.65 353.92,389.02 355.1,389.6 356.25,389.23 357.4,389.08 358.55,388.68 359.7,388.4 360.97,387.99 362.23,387.94 363.5,387.5 365.3,384.6 366.45,383.82 367.6,382.8 369.3,386.4 370.47,385.99 371.63,385.5 372.8,385.2 374,382.94 375.2,380.5 376.65,380.54 378.1,380.3 379.3,386.4 380.75,387.56 382.2,388.7 383.35,387.12 384.5,385.8 385.67,385.67 386.83,385.52 388,385.2 389.2,386.42 390.4,387.5 391.57,387.94 392.73,388.21 393.9,388.7 395.07,387.41 396.23,386.11 397.4,384.9 398.57,385.21 399.73,385.67 400.9,386.1 402.07,385.82 403.23,385.49 404.4,385.2 405.57,385.11 406.73,384.95 407.9,384.6 409.07,385.17 410.23,385.65 411.4,386.4 412.57,386.06 413.73,385.81 414.9,385.4 416.05,385.21 417.2,384.9 418.4,386.19 419.6,387.5 420.77,388 421.93,388.17 423.1,388.7 424.27,388 425.43,387.48 426.6,386.9 427.77,387.54 428.93,388.14 430.1,388.7 431.25,390.02 432.4,391.6 433.9,392.3 434.4,461 434.9,461 435,386.5 435.8,376.3 436.8,367.5 438.2,362.4 439.7,360.5 440.8,361.22 441.9,361.7 443,362.87 444.1,363.9 445.2,362.36 446.3,361 447.4,359.8 448.5,358.8 449.6,357.14 450.7,355.8 451.75,356.95 452.8,358 454.3,361.7 455.4,362.17 456.5,362.8 457.54,362.89 458.59,363.1 459.63,363.08 460.67,363.2 461.71,363.33 462.76,363.4 463.8,363.4 465.25,362.76 466.7,362 467.8,362.55 468.9,362.67 470,363.55 471.1,363.9 472.2,363.82 473.3,363.39 474.4,363.49 475.5,363.4 476.66,363.7 477.82,364.17 478.98,364.07 480.14,364.36 481.3,364.6 482.48,365.03 483.66,365.41 484.84,365.79 486.02,365.88 487.2,366.1 488.36,366.57 489.52,366.76 490.68,367.38 491.84,367.87 493,368.2 494.45,368.05 495.9,367.8 497.08,368.09 498.26,368.7 499.44,369.24 500.62,369.49 501.8,369.7 502.96,370.03 504.12,370.43 505.28,370.73 506.44,370.84 507.6,371.2 508.76,371.47 509.92,371.6 511.08,371.5 512.24,371.61 513.4,371.9 514.5,372.16 515.6,372.48 516.7,372.89 517.8,373.01 518.9,373.17 520,373.5 521,373.84 522,374 523,373.99 524,374.69 525,374.8 526,374.93 527,375.3 528.13,375.52 529.27,375.77 530.4,375.6 531.53,375.79 532.67,376.17 533.8,376.4 534.6,381.7 536.05,382.87 537.5,383.8 538.67,384.39 539.83,384.84 541,385.2 542.17,385.2 543.35,384.73 544.53,384.63 545.7,384.6 546.87,385.01 548.03,385.33 549.2,385.8 550.23,385.72 551.25,385.6 552.27,385.37 553.3,385.2 554.75,386.35 556.2,387.3 557.38,387.28 558.55,387.31 559.73,387.52 560.9,387.5 562.06,387.62 563.22,387.3 564.38,387.66 565.54,387.64 566.7,387.5 567.88,387.08 569.05,386.7 570.23,386.16 571.4,385.8 572.57,385.61 573.73,385.4 574.9,385.2 576.1,383.1 577.26,383.01 578.42,383.42 579.58,383.13 580.74,383.08 581.9,383.1 583.1,385.2 584.1,385.23 585.1,385.22 586.1,385.21 587.1,385.33 588.1,385.09 589.1,385.06 590.1,385.2 591.25,385.28 592.4,385.47 593.55,385.82 594.7,385.9 595.85,385.67 597,385.8 598.17,385.92 599.35,385.84 600.53,386.22 601.7,386.4 602.87,386.05 604.03,385.6 605.2,385 606.35,385.15 607.5,385.23 608.65,385.51 609.8,385.8 610.97,385.71 612.15,385.31 613.33,385.06 614.5,384.9 615.68,385.14 616.86,385.46 618.04,385.9 619.22,386.43 620.4,386.9 621.55,386.42 622.7,385.94 623.85,385.6 625,385.2 626.17,384.91 627.35,384.97 628.53,384.73 629.7,384.6 630.86,384.6 632.02,384.44 633.18,384.4 634.34,384.53 635.5,384.6 636.68,384.66 637.86,384.68 639.04,384.77 640.22,384.9 641.4,385 642.55,384.64 643.7,384.28 644.85,384.19 646,384 647.01,384.02 648.03,384 649.04,383.95 650.06,384.12 651.07,384.02 652.09,383.88 653.1,383.8 653.6,387.5 655.4,389.9 656.55,390.54 657.7,391 658.9,398 660.1,400.9 661,388.7 662.4,387.5 663.55,388.83 664.7,389.9 665.9,389 667.1,388.1 668.27,389 669.43,389.54 670.6,390.4 671.75,389.79 672.9,389.3 674.7,391.6 675.2,385.2 675.8,384.6 676,428" fill="none" stroke="#f85a5c" stroke-width="2.1" stroke-linejoin="round" stroke-linecap="round" />
<polyline points="47.3,440 47.5,413 48.6,409.54 49.7,406 50.85,404.55 52,403.1 53.17,402.39 54.33,401.91 55.5,401.4 56.68,401.46 57.86,401.79 59.04,401.82 60.22,401.84 61.4,401.9 62.55,400.77 63.7,399.7 64.85,398.38 66,397.3 67.17,398.29 68.35,399.15 69.53,400.48 70.7,401.4 71.86,400.52 73.02,399.93 74.18,398.69 75.34,398.14 76.5,397.3 77.67,397.83 78.85,398.39 80.03,399.12 81.2,399.6 82.26,398.6 83.32,397.62 84.38,397.18 85.44,396.24 86.5,395.3 87.95,396.43 89.4,397.8 90.57,398.03 91.73,397.96 92.9,398.1 94.07,397.4 95.23,396.66 96.4,396.1 97.56,396.79 98.72,397.52 99.88,398 101.04,398.95 102.2,399.6 103.22,398.6 104.25,397.65 105.28,397.02 106.3,396.1 107.36,396.85 108.42,397.61 109.48,398.44 110.54,399.25 111.6,400 112.75,399 113.9,397.91 115.05,396.95 116.2,396.1 117.38,396.95 118.55,397.83 119.73,398.4 120.9,399 121.93,398.45 122.95,397.87 123.97,397.39 125,396.9 126.06,397.27 127.12,397.61 128.18,397.63 129.24,398.09 130.3,398.5 131.75,397.67 133.2,396.9 134.37,396.09 135.53,395.11 136.7,394.2 137.86,393.91 139.02,393.94 140.18,393.5 141.34,393.32 142.5,393.1 143.68,392.75 144.86,392.5 146.04,392.19 147.22,392.02 148.4,391.7 149.55,391.69 150.7,391.93 151.85,391.93 153,392.1 154.17,391.86 155.33,391.43 156.5,391.3 157.67,391.68 158.83,392.14 160,392.6 161.18,392.29 162.36,392.17 163.54,391.96 164.72,391.8 165.9,391.7 167.06,392.35 168.22,393.2 169.38,393.86 170.54,394.34 171.7,395 172.88,394.12 174.05,393.38 175.22,392.62 176.4,391.7 177.57,392.23 178.75,393 179.93,393.67 181.1,394.2 182.25,393.48 183.4,392.88 184.55,392.48 185.7,391.9 186.87,392.62 188.03,393.36 189.2,394.2 190.38,393.48 191.56,392.79 192.74,392.53 193.92,392.01 195.1,391.3 196.26,391.54 197.42,391.54 198.58,391.39 199.74,391.7 200.9,391.9 202.12,391.79 203.35,391.7 204.58,391.34 205.8,391.1 206.8,391.61 207.8,392.24 208.8,392.8 209.96,392.17 211.12,391.57 212.28,390.74 213.44,390.35 214.6,389.6 215.64,389.69 216.69,389.4 217.73,389.45 218.77,389.55 219.81,389.82 220.86,389.57 221.9,389.6 222.94,389.83 223.99,389.84 225.03,389.96 226.07,390.12 227.11,390.22 228.16,390.17 229.2,390.3 230.36,390.16 231.52,389.99 232.68,390.08 233.84,390.04 235,389.9 236.18,390.03 237.36,390.52 238.54,390.71 239.72,390.83 240.9,391.1 242.35,390.33 243.8,389.6 244.83,389.75 245.87,389.85 246.9,389.98 247.93,390.23 248.97,390.23 250,390.2 251.05,390.26 252.1,390.19 253.15,390.09 254.2,390.15 255.25,390.26 256.3,390.27 257.35,390.11 258.4,390 259.5,389.96 260.6,389.84 261.7,389.82 262.8,389.95 263.9,389.89 265,389.8 266,389.65 267,389.65 268,389.86 269,389.93 270,389.89 271,389.83 272,389.74 273,389.6 274.1,389.9 275.2,390 276.3,390.3 277.4,390.44 278.5,390.46 279.6,390.49 280.7,390.84 281.8,391.1 282.87,390.54 283.93,390.2 285,389.6 286.17,389.52 287.33,389.35 288.5,389.2 289.66,388.64 290.82,388.04 291.98,387.72 293.14,387.26 294.3,386.7 295.48,386.53 296.66,386.32 297.84,386.28 299.02,386.17 300.2,386.1 301.38,385.8 302.55,385.28 303.72,385.08 304.9,384.9 306.35,384.94 307.8,384.9 309.5,387.3 310.68,387.47 311.85,387.61 313.02,387.48 314.2,387.6 315.65,386.99 317.1,386.4 318.9,388.4 320.05,390.19 321.2,391.9 322.35,392.44 323.5,393.1 324.67,392.08 325.83,391.26 327,390.2 328.17,390.83 329.33,391.69 330.5,392.5 331.67,392.62 332.83,392.83 334,393.1 335.2,391.25 336.4,389.66 337.6,387.8 338.77,389.18 339.93,390.59 341.1,391.9 342.25,392.76 343.4,393.7 344.57,392.37 345.73,391.07 346.9,389.6 348.07,389.76 349.23,390.01 350.4,390.2 351.57,390.7 352.73,390.97 353.9,391.4 355.07,390.15 356.23,388.94 357.4,387.6 358.57,388.28 359.73,388.98 360.9,389.6 361.9,389.88 362.9,389.9 363.92,388.89 364.95,387.95 365.98,386.84 367,385.8 368.17,385.67 369.33,385.37 370.5,385.2 371.65,385.49 372.8,385.8 374.6,387.5 376.05,385.94 377.5,384.6 378.67,386.18 379.83,387.68 381,389.3 382.17,389.7 383.33,390.39 384.5,390.8 385.67,390.56 386.83,390.3 388,389.9 389.18,390.15 390.36,390.63 391.54,390.97 392.72,391.11 393.9,391.3 395.07,389.86 396.23,388.63 397.4,387.3 398.85,388.53 400.3,389.6 401.75,390.66 403.2,391.6 404.38,390.03 405.55,388.27 406.72,386.76 407.9,385.2 409.07,386.63 410.23,388.1 411.4,389.6 412.57,389.8 413.73,389.99 414.9,390.1 416.07,389.54 417.23,389.09 418.4,388.7 419.57,390.2 420.73,391.44 421.9,392.8 423.05,392.78 424.2,392.8 425.37,392.51 426.53,392.1 427.7,391.6 428.87,392.36 430.03,393.2 431.2,393.9 432.37,393.8 433.53,393.9 434.7,393.9 435.76,393.62 436.82,393.05 437.88,392.72 438.94,392.49 440,392 441.15,390.91 442.3,390 443.48,389.61 444.65,389.3 445.82,389.15 447,389 448.45,387.96 449.9,386.9 451.7,387.8 453.15,388.93 454.6,390.2 455.78,389.77 456.95,389.21 458.12,388.51 459.3,388.1 460.34,388.36 461.38,388.56 462.42,388.74 463.46,388.97 464.5,389.2 465.67,388.78 466.83,388.35 468,387.8 469.18,388.56 470.35,389.38 471.52,390.04 472.7,390.8 473.85,389.62 475,388.4 476.17,386.94 477.33,385.53 478.5,384.1 479.7,384.54 480.9,384.9 482.05,385.61 483.2,386.1 484.65,384.21 486.1,382.2 487.3,381.58 488.5,380.8 489.95,381.9 491.4,382.9 492.55,384.62 493.7,386.4 495.15,385.91 496.6,385.3 497.6,384.98 498.6,384.4 499.6,384.1 500.3,384.5 500.5,428.7 500.7,401.9 501.87,400.78 503.03,399.78 504.2,398.9 505.38,397.89 506.55,396.86 507.72,396.2 508.9,395.4 510.35,396.22 511.8,397 512.83,396.39 513.85,395.93 514.88,395.11 515.9,394.3 516.92,394.1 517.95,394 518.98,393.49 520,393.2 521.17,393.88 522.33,394.82 523.5,395.5 524.67,395.08 525.85,394.52 527.03,394.36 528.2,393.9 529.37,393.62 530.53,393.38 531.7,393.1 533.15,393.87 534.6,394.8 535.62,394.07 536.65,393.49 537.68,392.83 538.7,392 539.88,392.47 541.05,392.87 542.23,393.18 543.4,393.4 544.55,393.2 545.7,393.04 546.85,393.08 548,392.8 549.18,393.46 550.36,394.02 551.54,394.38 552.72,395.2 553.9,395.9 555.05,394.71 556.2,393.6 557.35,392.32 558.5,391 559.67,391.45 560.85,391.81 562.03,392.32 563.2,392.8 564.38,392.14 565.55,391.34 566.73,390.38 567.9,389.6 569.07,390.43 570.23,391.22 571.4,392 572.57,391.06 573.73,390.12 574.9,389.3 576.08,388.58 577.25,387.86 578.42,387.02 579.6,386.4 580.75,387.55 581.9,388.5 583.07,388.23 584.23,387.76 585.4,387.5 586.57,386.59 587.73,385.75 588.9,385 590.08,385.67 591.25,386.14 592.42,386.82 593.6,387.5 594.77,387.16 595.93,386.79 597.1,386.4 598.23,386.73 599.37,387.08 600.5,387.5 601.67,388.04 602.83,388.53 604,388.9 605.17,388.43 606.33,387.96 607.5,387.5 608.65,386.26 609.8,385.2 610.97,385.34 612.15,385.52 613.33,385.83 614.5,386.1 615.67,385.31 616.85,384.79 618.03,383.89 619.2,383.1 620.37,383.95 621.53,384.94 622.7,385.8 623.87,385.18 625.03,384.61 626.2,384 627.37,383.14 628.53,382.43 629.7,381.7 630.85,383.03 632,384.6 633.17,385.53 634.33,386.51 635.5,387.3 636.67,386.65 637.83,385.83 639,385.2 640.17,385.47 641.35,385.67 642.53,386.19 643.7,386.4 644.88,386.17 646.05,385.94 647.23,385.99 648.4,385.8 649.58,386.11 650.75,386.39 651.92,386.62 653.1,386.9 654.25,386.66 655.4,386.42 656.55,386.2 657.7,385.8 658.7,385.78 659.7,385.77 660.7,385.72 661.7,385.86 662.7,385.93 663.7,385.88 664.7,385.8 665.7,385.85 666.7,386.04 667.7,386.24 668.7,386.37 669.7,386.37 670.7,386.52 671.7,386.6 672.9,386.86 674.1,387.18 675.3,387.26 676.5,387.5" fill="none" stroke="#858cf4" stroke-width="2.1" stroke-linejoin="round" stroke-linecap="round" />
<polyline points="47.9,375 47.9,343.4 49.7,348.7 51.15,350.5 52.6,352.2 54.3,357.4 56.1,361 57.8,364.5 59,364.98 60.2,365.6 61.37,366.03 62.53,366.51 63.7,367.1 65.15,368.03 66.6,369.1 67.75,368.61 68.9,368 69.9,367.12 70.9,366.32 71.9,365.6 73.35,366.95 74.8,368.3 75.83,368.53 76.85,368.78 77.88,369.15 78.9,369.5 80.35,368.28 81.8,367.1 82.97,367.58 84.13,367.96 85.3,368.3 86.75,369.24 88.2,370.3 89.37,369.15 90.53,368.11 91.7,367.1 92.72,367.36 93.75,367.72 94.78,368.22 95.8,368.5 97.25,366.58 98.7,364.5 99.72,363.1 100.75,361.7 101.78,360.15 102.8,358.6 104.25,358.37 105.7,358 107.15,356.05 108.6,353.9 109.8,350.78 111,347.5 112.2,341.7 113.3,330 114.2,300 114.8,277 115.2,259.5" fill="none" stroke="#60b3ee" stroke-width="2.3" stroke-linejoin="round" stroke-linecap="round" />
</g>
<line x1="47.5" y1="460.5" x2="47.5" y2="464.5" stroke="#3a3a3a" stroke-width="1.0" />
<line x1="131.35" y1="460.5" x2="131.35" y2="464.5" stroke="#3a3a3a" stroke-width="1.0" />
<line x1="215.21" y1="460.5" x2="215.21" y2="464.5" stroke="#3a3a3a" stroke-width="1.0" />
<line x1="299.06" y1="460.5" x2="299.06" y2="464.5" stroke="#3a3a3a" stroke-width="1.0" />
<line x1="382.92" y1="460.5" x2="382.92" y2="464.5" stroke="#3a3a3a" stroke-width="1.0" />
<line x1="466.77" y1="460.5" x2="466.77" y2="464.5" stroke="#3a3a3a" stroke-width="1.0" />
<line x1="550.62" y1="460.5" x2="550.62" y2="464.5" stroke="#3a3a3a" stroke-width="1.0" />
<line x1="634.48" y1="460.5" x2="634.48" y2="464.5" stroke="#3a3a3a" stroke-width="1.0" />
<line x1="89.43" y1="460.5" x2="89.43" y2="463" stroke="#3a3a3a" stroke-width="1.0" />
<line x1="173.28" y1="460.5" x2="173.28" y2="463" stroke="#3a3a3a" stroke-width="1.0" />
<line x1="257.13" y1="460.5" x2="257.13" y2="463" stroke="#3a3a3a" stroke-width="1.0" />
<line x1="340.99" y1="460.5" x2="340.99" y2="463" stroke="#3a3a3a" stroke-width="1.0" />
<line x1="424.84" y1="460.5" x2="424.84" y2="463" stroke="#3a3a3a" stroke-width="1.0" />
<line x1="508.7" y1="460.5" x2="508.7" y2="463" stroke="#3a3a3a" stroke-width="1.0" />
<line x1="592.55" y1="460.5" x2="592.55" y2="463" stroke="#3a3a3a" stroke-width="1.0" />
<line x1="43.5" y1="460.5" x2="47.5" y2="460.5" stroke="#3a3a3a" stroke-width="1.0" />
<line x1="43.5" y1="360" x2="47.5" y2="360" stroke="#3a3a3a" stroke-width="1.0" />
<line x1="43.5" y1="259.5" x2="47.5" y2="259.5" stroke="#3a3a3a" stroke-width="1.0" />
<line x1="45" y1="410.25" x2="47.5" y2="410.25" stroke="#3a3a3a" stroke-width="1.0" />
<line x1="45" y1="309.75" x2="47.5" y2="309.75" stroke="#3a3a3a" stroke-width="1.0" />
<text x="47.5" y="478.8" font-size="12.8" text-anchor="middle" fill="#111" font-weight="normal" >0</text>
<text x="131.35" y="478.8" font-size="12.8" text-anchor="middle" fill="#111" font-weight="normal" >200</text>
<text x="215.21" y="478.8" font-size="12.8" text-anchor="middle" fill="#111" font-weight="normal" >400</text>
<text x="299.06" y="478.8" font-size="12.8" text-anchor="middle" fill="#111" font-weight="normal" >600</text>
<text x="382.92" y="478.8" font-size="12.8" text-anchor="middle" fill="#111" font-weight="normal" >800</text>
<text x="466.77" y="478.8" font-size="12.8" text-anchor="middle" fill="#111" font-weight="normal" >1000</text>
<text x="550.62" y="478.8" font-size="12.8" text-anchor="middle" fill="#111" font-weight="normal" >1200</text>
<text x="634.48" y="478.8" font-size="12.8" text-anchor="middle" fill="#111" font-weight="normal" >1400</text>
<text x="39.4" y="464.9" font-size="12.8" text-anchor="end" fill="#111" font-weight="normal" >1.4</text>
<text x="39.4" y="364.4" font-size="12.8" text-anchor="end" fill="#111" font-weight="normal" >1.6</text>
<text x="39.4" y="263.9" font-size="12.8" text-anchor="end" fill="#111" font-weight="normal" >1.8</text>
<text x="362" y="492.7" font-size="13" text-anchor="middle" fill="#111" font-weight="normal" >Time / h</text>
<text transform="translate(17.0,368.6) rotate(-90)" font-size="13" text-anchor="middle" fill="#111">E / V <tspan font-style="italic" font-size="11">vs.</tspan> RHE</text>
<line x1="135.5" y1="285.2" x2="160.8" y2="285.2" stroke="#f85a5c" stroke-width="1.8" />
<text x="163.6" y="289.7" font-size="13.5" text-anchor="start" fill="#111" font-weight="normal" >Pt-RuO<tspan font-size="8" baseline-shift="-5">2</tspan> (test No.1)</text>
<line x1="135.5" y1="314.7" x2="160.8" y2="314.7" stroke="#858cf4" stroke-width="1.8" />
<text x="163.6" y="319.2" font-size="13.5" text-anchor="start" fill="#111" font-weight="normal" >Pt-RuO<tspan font-size="8" baseline-shift="-5">2</tspan> (test No.2)</text>
<line x1="135.5" y1="343.7" x2="160.8" y2="343.7" stroke="#60b3ee" stroke-width="1.8" />
<text x="163.6" y="348.2" font-size="13.5" text-anchor="start" fill="#111" font-weight="normal" >RuO<tspan font-size="8" baseline-shift="-5">2</tspan></text>
<text x="447.2" y="293.3" font-size="13.35" text-anchor="start" fill="#111" font-weight="normal" >Coated on <tspan fill="#f01c24">glass carbon elelctrode</tspan></text>
<text x="480.2" y="311.9" font-size="13.4" text-anchor="start" fill="#111" font-weight="normal" >@10mA cm<tspan font-size="8.5" baseline-shift="6.3">&#8722;2</tspan></text>
<text x="509" y="428.4" font-size="13.2" text-anchor="start" fill="#111" font-weight="normal" >Coated on <tspan fill="#f01c24">carbon paper</tspan></text>
<text x="542.6" y="447.8" font-size="13.2" text-anchor="start" fill="#111" font-weight="normal" >@10 mA cm<tspan font-size="8.5" baseline-shift="6.3">&#8722;2</tspan></text>
<text x="0.4" y="523.2" font-size="19.6" text-anchor="start" fill="#000" font-weight="bold" >d</text>
<line x1="48.4" y1="681.5" x2="298" y2="681.5" stroke="#f39a3a" stroke-width="1.1" stroke-dasharray="2.2 2.8"/>
<polyline points="48.4,699.41 49.4,699.39 50.4,699.36 51.4,699.34 52.4,699.32 53.4,699.29 54.4,699.27 55.4,699.25 56.4,699.23 57.4,699.21 58.4,699.2 59.4,699.18 60.4,699.16 61.4,699.15 62.4,699.13 63.4,699.12 64.4,699.1 65.4,699.09 66.4,699.08 67.4,699.07 68.4,699.06 69.4,699.05 70.4,699.04 71.4,699.03 72.4,699.02 73.4,699.01 74.4,699 75.4,698.99 76.4,698.99 77.4,698.98 78.4,698.98 79.4,698.97 80.4,698.97 81.4,698.96 82.4,698.96 83.4,698.95 84.4,698.95 85.4,698.95 86.4,698.95 87.4,698.94 88.4,698.94 89.4,698.94 90.4,698.94 91.4,698.94 92.4,698.94 93.4,698.94 94.4,698.94 95.4,698.94 96.4,698.94 97.4,698.94 98.4,698.94 99.4,698.94 100.4,698.95 101.4,698.95 102.4,698.95 103.4,698.95 104.4,698.95 105.4,698.96 106.4,698.96 107.4,698.96 108.4,698.96 109.4,698.96 110.4,698.97 111.4,698.97 112.4,698.97 113.4,698.97 114.4,698.98 115.4,698.98 116.4,698.98 117.4,698.98 118.4,698.99 119.4,698.99 120.4,698.99 121.4,698.99 122.4,699 123.4,699 124.4,699 125.4,699 126.4,699 127.4,699 128.4,699 129.4,699 130.4,699 131.4,699 132.4,699 133.4,699 134.4,699 135.4,699 136.4,699 137.4,699 138.4,699 139.4,698.99 140.4,698.99 141.4,698.99 142.4,698.98 143.4,698.98 144.4,698.98 145.4,698.97 146.4,698.97 147.4,698.96 148.4,698.95 149.4,698.95 150.4,698.94 151.4,698.93 152.4,698.92 153.4,698.91 154.4,698.9 155.4,698.89 156.4,698.88 157.4,698.87 158.4,698.86 159.4,698.85 160.4,698.83 161.4,698.82 162.4,698.81 163.4,698.79 164.4,698.77 165.4,698.76 166.4,698.74 167.4,698.72 168.4,698.7 169.4,698.68 170.4,698.66 171.4,698.64 172.4,698.61 173.4,698.59 174.4,698.56 175.4,698.53 176.4,698.5 177.4,698.47 178.4,698.43 179.4,698.39 180.4,698.35 181.4,698.31 182.4,698.27 183.4,698.22 184.4,698.17 185.4,698.12 186.4,698.07 187.4,698.01 188.4,697.95 189.4,697.89 190.4,697.82 191.4,697.75 192.4,697.67 193.4,697.6 194.4,697.52 195.4,697.43 196.4,697.34 197.4,697.25 198.4,697.15 199.4,697.05 200.4,696.95 201.4,696.84 202.4,696.73 203.4,696.61 204.4,696.48 205.4,696.36 206.4,696.22 207.4,696.09 208.4,695.94 209.4,695.79 210.4,695.64 211.4,695.48 212.4,695.32 213.4,695.15 214.4,694.97 215.4,694.79 216.4,694.6 217.4,694.41 218.4,694.21 219.4,694.01 220.4,693.79 221.4,693.58 222.4,693.35 223.4,693.12 224.4,692.88 225.4,692.64 226.4,692.39 227.4,692.13 228.4,691.86 229.4,691.59 230.4,691.31 231.4,691.02 232.4,690.72 233.4,690.42 234.4,690.11 235.4,689.79 236.4,689.46 237.4,689.13 238.4,688.78 239.4,688.43 240.4,688.08 241.4,687.71 242.4,687.34 243.4,686.96 244.4,686.57 245.4,686.17 246.4,685.77 247.4,685.35 248.4,684.94 249.4,684.51 250.4,684.08 251.4,683.63 252.4,683.19 253.4,682.73 254.4,682.27 255.4,681.8 256.4,681.32 257.4,680.83 258.4,680.34 259.4,679.84 260.4,679.34 261.4,678.83 262.4,678.31 263.4,677.78 264.4,677.25 265.4,676.7 266.4,676.16 267.4,675.6 268.4,675.04 269.4,674.47 270.4,673.9 271.4,673.32 272.4,672.73 273.4,672.14 274.4,671.54 275.4,670.93 276.4,670.32 277.4,669.7 278.4,669.07 279.4,668.44 280.4,667.8 281.4,667.15 282.4,666.5 283.4,665.84 284.4,665.18 285.4,664.51 286.4,663.83 287.4,663.15 288.4,662.46 289.4,661.77 290.4,661.07 291.4,660.36 292.4,659.65 293.4,658.93 294.4,658.21 295.4,657.48 296.4,656.74 297.4,656 298.4,655.25 299.4,654.5 300.4,653.74 301.4,652.98 302.4,652.21 303.4,651.43 304.4,650.65 305.4,649.87 306.4,649.08 307.4,648.28 308.4,647.48 309.4,646.67 310.4,645.86 311.4,645.04 312.4,644.22 313.4,643.39 314.4,642.56 315.4,641.72 316.4,640.88 317.4,640.03 318.4,639.18 319.4,638.32 320.4,637.46 321.4,636.59 322.4,635.72 323.4,634.84 324.4,633.96 325.4,633.07 326.4,632.18 327.4,631.29 328.4,630.39 329.4,629.48 330.4,628.57 331.3,627.75" fill="none" stroke="#66b8f4" stroke-width="1.4" stroke-linejoin="round" stroke-linecap="round" />
<polyline points="48.4,699.44 49.4,699.42 50.4,699.41 51.4,699.4 52.4,699.38 53.4,699.37 54.4,699.36 55.4,699.35 56.4,699.34 57.4,699.33 58.4,699.32 59.4,699.32 60.4,699.31 61.4,699.3 62.4,699.3 63.4,699.29 64.4,699.29 65.4,699.28 66.4,699.28 67.4,699.27 68.4,699.27 69.4,699.27 70.4,699.27 71.4,699.26 72.4,699.26 73.4,699.26 74.4,699.26 75.4,699.26 76.4,699.26 77.4,699.26 78.4,699.26 79.4,699.26 80.4,699.27 81.4,699.27 82.4,699.27 83.4,699.27 84.4,699.27 85.4,699.28 86.4,699.28 87.4,699.28 88.4,699.29 89.4,699.29 90.4,699.29 91.4,699.3 92.4,699.3 93.4,699.3 94.4,699.31 95.4,699.31 96.4,699.32 97.4,699.32 98.4,699.32 99.4,699.33 100.4,699.33 101.4,699.34 102.4,699.34 103.4,699.34 104.4,699.35 105.4,699.35 106.4,699.36 107.4,699.36 108.4,699.36 109.4,699.37 110.4,699.37 111.4,699.37 112.4,699.38 113.4,699.38 114.4,699.38 115.4,699.38 116.4,699.39 117.4,699.39 118.4,699.39 119.4,699.39 120.4,699.39 121.4,699.39 122.4,699.39 123.4,699.39 124.4,699.39 125.4,699.39 126.4,699.39 127.4,699.39 128.4,699.39 129.4,699.38 130.4,699.38 131.4,699.38 132.4,699.38 133.4,699.37 134.4,699.37 135.4,699.36 136.4,699.36 137.4,699.35 138.4,699.34 139.4,699.34 140.4,699.33 141.4,699.32 142.4,699.31 143.4,699.3 144.4,699.29 145.4,699.28 146.4,699.27 147.4,699.25 148.4,699.24 149.4,699.23 150.4,699.21 151.4,699.2 152.4,699.18 153.4,699.16 154.4,699.15 155.4,699.13 156.4,699.11 157.4,699.09 158.4,699.07 159.4,699.05 160.4,699.02 161.4,699 162.4,698.98 163.4,698.95 164.4,698.92 165.4,698.9 166.4,698.87 167.4,698.84 168.4,698.81 169.4,698.78 170.4,698.75 171.4,698.71 172.4,698.68 173.4,698.64 174.4,698.61 175.4,698.57 176.4,698.53 177.4,698.49 178.4,698.45 179.4,698.41 180.4,698.36 181.4,698.32 182.4,698.27 183.4,698.23 184.4,698.18 185.4,698.13 186.4,698.08 187.4,698.03 188.4,697.97 189.4,697.92 190.4,697.86 191.4,697.81 192.4,697.75 193.4,697.69 194.4,697.63 195.4,697.56 196.4,697.5 197.4,697.43 198.4,697.37 199.4,697.3 200.4,697.23 201.4,697.16 202.4,697.09 203.4,697.01 204.4,696.94 205.4,696.86 206.4,696.78 207.4,696.7 208.4,696.62 209.4,696.53 210.4,696.45 211.4,696.36 212.4,696.27 213.4,696.18 214.4,696.09 215.4,696 216.4,695.9 217.4,695.81 218.4,695.71 219.4,695.61 220.4,695.51 221.4,695.4 222.4,695.3 223.4,695.19 224.4,695.08 225.4,694.97 226.4,694.86 227.4,694.74 228.4,694.62 229.4,694.51 230.4,694.39 231.4,694.26 232.4,694.14 233.4,694.01 234.4,693.88 235.4,693.75 236.4,693.62 237.4,693.49 238.4,693.35 239.4,693.21 240.4,693.07 241.4,692.93 242.4,692.79 243.4,692.64 244.4,692.49 245.4,692.34 246.4,692.19 247.4,692.04 248.4,691.88 249.4,691.72 250.4,691.56 251.4,691.39 252.4,691.23 253.4,691.06 254.4,690.89 255.4,690.72 256.4,690.54 257.4,690.37 258.4,690.19 259.4,690 260.4,689.82 261.4,689.63 262.4,689.44 263.4,689.25 264.4,689.06 265.4,688.86 266.4,688.67 267.4,688.46 268.4,688.26 269.4,688.06 270.4,687.85 271.4,687.64 272.4,687.42 273.4,687.21 274.4,686.99 275.4,686.77 276.4,686.54 277.4,686.32 278.4,686.09 279.4,685.86 280.4,685.62 281.4,685.39 282.4,685.15 283.4,684.91 284.4,684.66 285.4,684.42 286.4,684.17 287.4,683.91 288.4,683.66 289.4,683.4 290.4,683.14 291.4,682.87 292.4,682.61 293.4,682.34 294.4,682.07 295.4,681.79 296.4,681.51 297.4,681.23 298.4,680.95 299.4,680.66 300.4,680.37 301.4,680.08 302.4,679.78 303.4,679.49 304.4,679.18 305.4,678.88 306.4,678.57 307.4,678.26 308.4,677.95 309.4,677.63 310.4,677.31 311.4,676.99 312.4,676.66 313.4,676.34 314.4,676 315.4,675.67 316.4,675.33 317.4,674.99 318.4,674.64 319.4,674.3 320.4,673.95 321.4,673.59 322.4,673.23 323.4,672.87 324.2,672.58" fill="none" stroke="#66b8f4" stroke-width="1.4" stroke-linejoin="round" stroke-linecap="round" stroke-dasharray="4.6 4.6"/>
<polyline points="48.4,698.51 49.4,698.47 50.4,698.42 51.4,698.38 52.4,698.33 53.4,698.3 54.4,698.26 55.4,698.23 56.4,698.19 57.4,698.16 58.4,698.14 59.4,698.11 60.4,698.09 61.4,698.07 62.4,698.05 63.4,698.03 64.4,698.01 65.4,698 66.4,697.99 67.4,697.97 68.4,697.97 69.4,697.96 70.4,697.95 71.4,697.95 72.4,697.94 73.4,697.94 74.4,697.94 75.4,697.94 76.4,697.95 77.4,697.95 78.4,697.95 79.4,697.96 80.4,697.97 81.4,697.97 82.4,697.98 83.4,697.99 84.4,698 85.4,698.01 86.4,698.02 87.4,698.04 88.4,698.05 89.4,698.06 90.4,698.08 91.4,698.09 92.4,698.11 93.4,698.12 94.4,698.14 95.4,698.15 96.4,698.17 97.4,698.19 98.4,698.2 99.4,698.22 100.4,698.24 101.4,698.25 102.4,698.27 103.4,698.28 104.4,698.3 105.4,698.32 106.4,698.33 107.4,698.35 108.4,698.36 109.4,698.38 110.4,698.39 111.4,698.4 112.4,698.42 113.4,698.43 114.4,698.44 115.4,698.45 116.4,698.46 117.4,698.47 118.4,698.48 119.4,698.49 120.4,698.49 121.4,698.5 122.4,698.5 123.4,698.5 124.4,698.51 125.4,698.51 126.4,698.51 127.4,698.5 128.4,698.5 129.4,698.5 130.4,698.49 131.4,698.48 132.4,698.47 133.4,698.46 134.4,698.45 135.4,698.43 136.4,698.42 137.4,698.4 138.4,698.38 139.4,698.36 140.4,698.33 141.4,698.31 142.4,698.28 143.4,698.25 144.4,698.22 145.4,698.18 146.4,698.14 147.4,698.1 148.4,698.06 149.4,698.02 150.4,697.97 151.4,697.92 152.4,697.87 153.4,697.82 154.4,697.76 155.4,697.7 156.4,697.64 157.4,697.57 158.4,697.5 159.4,697.43 160.4,697.36 161.4,697.28 162.4,697.2 163.4,697.11 164.4,697.03 165.4,696.94 166.4,696.84 167.4,696.74 168.4,696.64 169.4,696.54 170.4,696.43 171.4,696.32 172.4,696.2 173.4,696.08 174.4,695.95 175.4,695.82 176.4,695.68 177.4,695.54 178.4,695.39 179.4,695.24 180.4,695.08 181.4,694.92 182.4,694.75 183.4,694.57 184.4,694.39 185.4,694.2 186.4,694 187.4,693.8 188.4,693.59 189.4,693.37 190.4,693.14 191.4,692.91 192.4,692.67 193.4,692.42 194.4,692.17 195.4,691.9 196.4,691.63 197.4,691.35 198.4,691.05 199.4,690.75 200.4,690.45 201.4,690.13 202.4,689.8 203.4,689.46 204.4,689.12 205.4,688.76 206.4,688.39 207.4,688.01 208.4,687.63 209.4,687.23 210.4,686.82 211.4,686.4 212.4,685.96 213.4,685.52 214.4,685.07 215.4,684.6 216.4,684.12 217.4,683.63 218.4,683.13 219.4,682.62 220.4,682.09 221.4,681.55 222.4,681 223.4,680.43 224.4,679.85 225.4,679.26 226.4,678.65 227.4,678.03 228.4,677.4 229.4,676.75 230.4,676.09 231.4,675.41 232.4,674.72 233.4,674.02 234.4,673.3 235.4,672.57 236.4,671.82 237.4,671.06 238.4,670.29 239.4,669.51 240.4,668.71 241.4,667.9 242.4,667.08 243.4,666.25 244.4,665.4 245.4,664.54 246.4,663.68 247.4,662.8 248.4,661.91 249.4,661 250.4,660.09 251.4,659.17 252.4,658.24 253.4,657.29 254.4,656.34 255.4,655.38 256.4,654.41 257.4,653.42 258.4,652.43 259.4,651.44 260.4,650.43 261.4,649.41 262.4,648.39 263.4,647.35 264.4,646.31 265.4,645.26 266.4,644.21 267.4,643.15 268.4,642.08 269.4,641 270.4,639.91 271.4,638.82 272.4,637.73 273.4,636.63 274.4,635.52 275.4,634.4 276.4,633.28 277.4,632.16 278.4,631.03 279.4,629.89 280.4,628.75 281.4,627.61 282.4,626.46 283.4,625.31 284.4,624.15 285.4,622.99 286.4,621.83 287.4,620.66 288.4,619.49 289.4,618.31 290.4,617.14 291.4,615.96 292.4,614.78 293.4,613.6 294.4,612.41 295.4,611.23 296.4,610.04 297.4,608.85 298.4,607.67 299.4,606.48 300.4,605.29 301.4,604.1 302.4,602.92 303.4,601.73 304.4,600.55 305.4,599.37 306.4,598.19 307.4,597.01 308.4,595.83 309.4,594.66 310.4,593.49 311.4,592.32 312.4,591.16 313.4,590 314.4,588.84 315.4,587.69 316.4,586.55 317.4,585.41 318.4,584.27 319.4,583.13 320.4,582 321.4,580.86 322.4,579.73 323.4,578.59 324.4,577.44 325.4,576.29 326.4,575.13 327.4,573.96 328.4,572.78 329.4,571.58 330.4,570.37 331.3,569.27" fill="none" stroke="#fa7478" stroke-width="1.4" stroke-linejoin="round" stroke-linecap="round" />
<polyline points="48.4,697.36 49.4,697.33 50.4,697.29 51.4,697.26 52.4,697.23 53.4,697.21 54.4,697.18 55.4,697.16 56.4,697.13 57.4,697.11 58.4,697.09 59.4,697.07 60.4,697.05 61.4,697.04 62.4,697.02 63.4,697.01 64.4,697 65.4,696.99 66.4,696.98 67.4,696.97 68.4,696.96 69.4,696.96 70.4,696.95 71.4,696.95 72.4,696.94 73.4,696.94 74.4,696.94 75.4,696.94 76.4,696.94 77.4,696.94 78.4,696.95 79.4,696.95 80.4,696.95 81.4,696.96 82.4,696.96 83.4,696.97 84.4,696.98 85.4,696.99 86.4,696.99 87.4,697 88.4,697.01 89.4,697.02 90.4,697.03 91.4,697.04 92.4,697.05 93.4,697.06 94.4,697.08 95.4,697.09 96.4,697.1 97.4,697.11 98.4,697.12 99.4,697.14 100.4,697.15 101.4,697.16 102.4,697.18 103.4,697.19 104.4,697.2 105.4,697.22 106.4,697.23 107.4,697.24 108.4,697.25 109.4,697.27 110.4,697.28 111.4,697.29 112.4,697.3 113.4,697.31 114.4,697.33 115.4,697.34 116.4,697.35 117.4,697.36 118.4,697.37 119.4,697.38 120.4,697.39 121.4,697.39 122.4,697.4 123.4,697.41 124.4,697.41 125.4,697.42 126.4,697.43 127.4,697.43 128.4,697.43 129.4,697.44 130.4,697.44 131.4,697.44 132.4,697.44 133.4,697.44 134.4,697.44 135.4,697.43 136.4,697.43 137.4,697.42 138.4,697.42 139.4,697.41 140.4,697.4 141.4,697.39 142.4,697.38 143.4,697.37 144.4,697.36 145.4,697.34 146.4,697.33 147.4,697.31 148.4,697.29 149.4,697.27 150.4,697.25 151.4,697.23 152.4,697.2 153.4,697.18 154.4,697.15 155.4,697.12 156.4,697.09 157.4,697.06 158.4,697.02 159.4,696.99 160.4,696.95 161.4,696.91 162.4,696.87 163.4,696.82 164.4,696.78 165.4,696.73 166.4,696.68 167.4,696.63 168.4,696.58 169.4,696.52 170.4,696.46 171.4,696.4 172.4,696.34 173.4,696.27 174.4,696.2 175.4,696.12 176.4,696.05 177.4,695.97 178.4,695.88 179.4,695.8 180.4,695.71 181.4,695.61 182.4,695.51 183.4,695.41 184.4,695.3 185.4,695.19 186.4,695.07 187.4,694.95 188.4,694.82 189.4,694.69 190.4,694.56 191.4,694.42 192.4,694.27 193.4,694.12 194.4,693.96 195.4,693.8 196.4,693.63 197.4,693.45 198.4,693.27 199.4,693.08 200.4,692.89 201.4,692.69 202.4,692.48 203.4,692.27 204.4,692.05 205.4,691.82 206.4,691.59 207.4,691.34 208.4,691.09 209.4,690.84 210.4,690.57 211.4,690.3 212.4,690.02 213.4,689.73 214.4,689.44 215.4,689.13 216.4,688.82 217.4,688.5 218.4,688.17 219.4,687.83 220.4,687.48 221.4,687.13 222.4,686.76 223.4,686.38 224.4,686 225.4,685.61 226.4,685.2 227.4,684.79 228.4,684.37 229.4,683.93 230.4,683.49 231.4,683.04 232.4,682.57 233.4,682.1 234.4,681.61 235.4,681.12 236.4,680.61 237.4,680.1 238.4,679.58 239.4,679.04 240.4,678.5 241.4,677.95 242.4,677.39 243.4,676.82 244.4,676.24 245.4,675.66 246.4,675.06 247.4,674.46 248.4,673.85 249.4,673.24 250.4,672.61 251.4,671.98 252.4,671.34 253.4,670.69 254.4,670.04 255.4,669.38 256.4,668.71 257.4,668.03 258.4,667.35 259.4,666.67 260.4,665.97 261.4,665.27 262.4,664.57 263.4,663.85 264.4,663.13 265.4,662.41 266.4,661.67 267.4,660.93 268.4,660.18 269.4,659.42 270.4,658.65 271.4,657.88 272.4,657.09 273.4,656.3 274.4,655.5 275.4,654.68 276.4,653.86 277.4,653.03 278.4,652.19 279.4,651.35 280.4,650.49 281.4,649.63 282.4,648.76 283.4,647.89 284.4,647.02 285.4,646.15 286.4,645.27 287.4,644.4 288.4,643.52 289.4,642.64 290.4,641.76 291.4,640.88 292.4,640 293.4,639.12 294.4,638.24 295.4,637.36 296.4,636.47 297.4,635.59 298.4,634.7 299.4,633.81 300.4,632.92 301.4,632.03 302.4,631.14 303.4,630.25 304.4,629.36 305.4,628.46 306.4,627.57 307.4,626.67 308.4,625.77 309.4,624.87 310.4,623.97 311.4,623.07 312.4,622.17 313.4,621.26 314.4,620.35 315.4,619.45 316.4,618.53 317.4,617.61 318.4,616.68 319.4,615.75 320.4,614.8 321.4,613.84 322.4,612.87 323.4,611.88 324.4,610.88 325.4,609.86 326.4,608.82 327.4,607.76 328.4,606.68 329.4,605.58 330.4,604.45 331.3,603.42" fill="none" stroke="#fa7478" stroke-width="1.5" stroke-linejoin="round" stroke-linecap="round" stroke-dasharray="4.6 4.6"/>
<rect x="48.4" y="508.5" width="283.2" height="210.9" fill="none" stroke="#3a3a3a" stroke-width="1.0"/>
<line x1="48.4" y1="719.4" x2="48.4" y2="723.4" stroke="#3a3a3a" stroke-width="1.0" />
<line x1="105.04" y1="719.4" x2="105.04" y2="723.4" stroke="#3a3a3a" stroke-width="1.0" />
<line x1="161.68" y1="719.4" x2="161.68" y2="723.4" stroke="#3a3a3a" stroke-width="1.0" />
<line x1="218.32" y1="719.4" x2="218.32" y2="723.4" stroke="#3a3a3a" stroke-width="1.0" />
<line x1="274.96" y1="719.4" x2="274.96" y2="723.4" stroke="#3a3a3a" stroke-width="1.0" />
<line x1="331.6" y1="719.4" x2="331.6" y2="723.4" stroke="#3a3a3a" stroke-width="1.0" />
<line x1="76.72" y1="719.4" x2="76.72" y2="721.9" stroke="#3a3a3a" stroke-width="1.0" />
<line x1="133.36" y1="719.4" x2="133.36" y2="721.9" stroke="#3a3a3a" stroke-width="1.0" />
<line x1="190" y1="719.4" x2="190" y2="721.9" stroke="#3a3a3a" stroke-width="1.0" />
<line x1="246.64" y1="719.4" x2="246.64" y2="721.9" stroke="#3a3a3a" stroke-width="1.0" />
<line x1="303.28" y1="719.4" x2="303.28" y2="721.9" stroke="#3a3a3a" stroke-width="1.0" />
<line x1="44.4" y1="700" x2="48.4" y2="700" stroke="#3a3a3a" stroke-width="1.0" />
<line x1="44.4" y1="661.7" x2="48.4" y2="661.7" stroke="#3a3a3a" stroke-width="1.0" />
<line x1="44.4" y1="623.4" x2="48.4" y2="623.4" stroke="#3a3a3a" stroke-width="1.0" />
<line x1="44.4" y1="585.1" x2="48.4" y2="585.1" stroke="#3a3a3a" stroke-width="1.0" />
<line x1="44.4" y1="546.8" x2="48.4" y2="546.8" stroke="#3a3a3a" stroke-width="1.0" />
<line x1="44.4" y1="508.5" x2="48.4" y2="508.5" stroke="#3a3a3a" stroke-width="1.0" />
<line x1="45.9" y1="680.85" x2="48.4" y2="680.85" stroke="#3a3a3a" stroke-width="1.0" />
<line x1="45.9" y1="642.55" x2="48.4" y2="642.55" stroke="#3a3a3a" stroke-width="1.0" />
<line x1="45.9" y1="604.25" x2="48.4" y2="604.25" stroke="#3a3a3a" stroke-width="1.0" />
<line x1="45.9" y1="565.95" x2="48.4" y2="565.95" stroke="#3a3a3a" stroke-width="1.0" />
<line x1="45.9" y1="527.65" x2="48.4" y2="527.65" stroke="#3a3a3a" stroke-width="1.0" />
<text x="48.4" y="735.8" font-size="12.8" text-anchor="middle" fill="#111" font-weight="normal" >1.30</text>
<text x="105.04" y="735.8" font-size="12.8" text-anchor="middle" fill="#111" font-weight="normal" >1.35</text>
<text x="161.68" y="735.8" font-size="12.8" text-anchor="middle" fill="#111" font-weight="normal" >1.40</text>
<text x="218.32" y="735.8" font-size="12.8" text-anchor="middle" fill="#111" font-weight="normal" >1.45</text>
<text x="274.96" y="735.8" font-size="12.8" text-anchor="middle" fill="#111" font-weight="normal" >1.50</text>
<text x="331.6" y="735.8" font-size="12.8" text-anchor="middle" fill="#111" font-weight="normal" >1.55</text>
<text x="41" y="703.4" font-size="12.5" text-anchor="end" fill="#111" font-weight="normal" >0</text>
<text x="41" y="665.1" font-size="12.5" text-anchor="end" fill="#111" font-weight="normal" >20</text>
<text x="41" y="626.8" font-size="12.5" text-anchor="end" fill="#111" font-weight="normal" >40</text>
<text x="41" y="588.5" font-size="12.5" text-anchor="end" fill="#111" font-weight="normal" >60</text>
<text x="41" y="550.2" font-size="12.5" text-anchor="end" fill="#111" font-weight="normal" >80</text>
<text x="41" y="511.9" font-size="12.5" text-anchor="end" fill="#111" font-weight="normal" >100</text>
<text x="190" y="749.2" font-size="12.8" text-anchor="middle" fill="#111" font-weight="normal" >E / V <tspan font-size="10.5">vs.</tspan> RHE</text>
<text transform="translate(20.1,612.8) rotate(-90)" font-size="12.8" text-anchor="middle" fill="#111">j / mA cm<tspan font-size="7.8" baseline-shift="6.3">&#8722;2</tspan></text>
<line x1="65.7" y1="529.7" x2="87.6" y2="529.7" stroke="#fa7478" stroke-width="1.6" />
<line x1="65.7" y1="549.5" x2="87.6" y2="549.5" stroke="#66b8f4" stroke-width="1.6" />
<text x="93.3" y="533.4" font-size="12.8" text-anchor="start" fill="#111" font-weight="normal" >Pt-RuO<tspan font-size="7.3" baseline-shift="-4.6">2</tspan></text>
<text x="94.8" y="552.8" font-size="12.8" text-anchor="start" fill="#111" font-weight="normal" >RuO<tspan font-size="7.3" baseline-shift="-4.6">2</tspan></text>
<text x="65.5" y="572.6" font-size="12.8" text-anchor="start" fill="#111" font-weight="normal" >dashed: 10000 cycles</text>
<circle cx="119" cy="664.9" r="0.7" fill="#fa7478"/>
<text x="127" y="666.6" font-size="12.8" text-anchor="start" fill="#fa7478" font-weight="normal" >E = 12 mV</text>
<circle cx="249" cy="703.7" r="0.7" fill="#66b8f4"/>
<text x="257.6" y="704.8" font-size="12.8" text-anchor="start" fill="#66b8f4" font-weight="normal" >E = 38 mV</text>
<text x="346.4" y="523.6" font-size="19.6" text-anchor="start" fill="#000" font-weight="bold" >e</text>
<clipPath id="ce"><rect x="392.5" y="508.3" width="283.7" height="210.3"/></clipPath>
<g clip-path="url(#ce)">
<polyline points="403.4,718.6 408.85,713.9 425.22,710.89 468.86,707.91 534.32,704.69 665.24,701.22" fill="none" stroke="#fa7478" stroke-width="1.3" stroke-linejoin="round" stroke-linecap="round" />
<g stroke="#f77a7e" stroke-width="1.1" fill="none" opacity="0.9"><rect x="399.2" y="714.4" width="8.4" height="8.4"/><path d="M399.2,714.4 L407.6,722.8 M407.6,714.4 L399.2,722.8"/></g>
<g stroke="#f77a7e" stroke-width="1.1" fill="none" opacity="0.9"><rect x="404.65" y="709.7" width="8.4" height="8.4"/><path d="M404.65,709.7 L413.05,718.1 M413.05,709.7 L404.65,718.1"/></g>
<g stroke="#f77a7e" stroke-width="1.1" fill="none" opacity="0.9"><rect x="421.02" y="706.69" width="8.4" height="8.4"/><path d="M421.02,706.69 L429.42,715.09 M429.42,706.69 L421.02,715.09"/></g>
<g stroke="#f77a7e" stroke-width="1.1" fill="none" opacity="0.9"><rect x="464.66" y="703.71" width="8.4" height="8.4"/><path d="M464.66,703.71 L473.06,712.11 M473.06,703.71 L464.66,712.11"/></g>
<g stroke="#f77a7e" stroke-width="1.1" fill="none" opacity="0.9"><rect x="530.12" y="700.49" width="8.4" height="8.4"/><path d="M530.12,700.49 L538.52,708.89 M538.52,700.49 L530.12,708.89"/></g>
<g stroke="#f77a7e" stroke-width="1.1" fill="none" opacity="0.9"><rect x="661.04" y="697.02" width="8.4" height="8.4"/><path d="M661.04,697.02 L669.44,705.42 M669.44,697.02 L661.04,705.42"/></g>
<polyline points="403.4,718.6 408.85,663.22 425.22,622.91 468.86,607.14 534.32,582.26 665.24,533.54" fill="none" stroke="#66b8f4" stroke-width="1.3" stroke-linejoin="round" stroke-linecap="round" />
<g stroke="#6cbcf0" stroke-width="1.1" fill="none" opacity="0.9"><rect x="399.2" y="714.4" width="8.4" height="8.4"/><path d="M399.2,714.4 L407.6,722.8 M407.6,714.4 L399.2,722.8"/></g>
<g stroke="#6cbcf0" stroke-width="1.1" fill="none" opacity="0.9"><rect x="404.65" y="659.02" width="8.4" height="8.4"/><path d="M404.65,659.02 L413.05,667.42 M413.05,659.02 L404.65,667.42"/></g>
<g stroke="#6cbcf0" stroke-width="1.1" fill="none" opacity="0.9"><rect x="421.02" y="618.71" width="8.4" height="8.4"/><path d="M421.02,618.71 L429.42,627.11 M429.42,618.71 L421.02,627.11"/></g>
<g stroke="#6cbcf0" stroke-width="1.1" fill="none" opacity="0.9"><rect x="464.66" y="602.94" width="8.4" height="8.4"/><path d="M464.66,602.94 L473.06,611.34 M473.06,602.94 L464.66,611.34"/></g>
<g stroke="#6cbcf0" stroke-width="1.1" fill="none" opacity="0.9"><rect x="530.12" y="578.06" width="8.4" height="8.4"/><path d="M530.12,578.06 L538.52,586.46 M538.52,578.06 L530.12,586.46"/></g>
<g stroke="#6cbcf0" stroke-width="1.1" fill="none" opacity="0.9"><rect x="661.04" y="529.34" width="8.4" height="8.4"/><path d="M661.04,529.34 L669.44,537.74 M669.44,529.34 L661.04,537.74"/></g>
</g>
<rect x="392.5" y="508.3" width="283.7" height="210.3" fill="none" stroke="#555" stroke-width="1.0"/>
<line x1="403.4" y1="718.6" x2="403.4" y2="722.6" stroke="#3a3a3a" stroke-width="1.0" />
<line x1="425.22" y1="718.6" x2="425.22" y2="722.6" stroke="#3a3a3a" stroke-width="1.0" />
<line x1="447.04" y1="718.6" x2="447.04" y2="722.6" stroke="#3a3a3a" stroke-width="1.0" />
<line x1="468.86" y1="718.6" x2="468.86" y2="722.6" stroke="#3a3a3a" stroke-width="1.0" />
<line x1="490.68" y1="718.6" x2="490.68" y2="722.6" stroke="#3a3a3a" stroke-width="1.0" />
<line x1="512.5" y1="718.6" x2="512.5" y2="722.6" stroke="#3a3a3a" stroke-width="1.0" />
<line x1="534.32" y1="718.6" x2="534.32" y2="722.6" stroke="#3a3a3a" stroke-width="1.0" />
<line x1="556.14" y1="718.6" x2="556.14" y2="722.6" stroke="#3a3a3a" stroke-width="1.0" />
<line x1="577.96" y1="718.6" x2="577.96" y2="722.6" stroke="#3a3a3a" stroke-width="1.0" />
<line x1="599.78" y1="718.6" x2="599.78" y2="722.6" stroke="#3a3a3a" stroke-width="1.0" />
<line x1="621.6" y1="718.6" x2="621.6" y2="722.6" stroke="#3a3a3a" stroke-width="1.0" />
<line x1="643.42" y1="718.6" x2="643.42" y2="722.6" stroke="#3a3a3a" stroke-width="1.0" />
<line x1="665.24" y1="718.6" x2="665.24" y2="722.6" stroke="#3a3a3a" stroke-width="1.0" />
<line x1="392.49" y1="718.6" x2="392.49" y2="721.1" stroke="#3a3a3a" stroke-width="1.0" />
<line x1="414.31" y1="718.6" x2="414.31" y2="721.1" stroke="#3a3a3a" stroke-width="1.0" />
<line x1="436.13" y1="718.6" x2="436.13" y2="721.1" stroke="#3a3a3a" stroke-width="1.0" />
<line x1="457.95" y1="718.6" x2="457.95" y2="721.1" stroke="#3a3a3a" stroke-width="1.0" />
<line x1="479.77" y1="718.6" x2="479.77" y2="721.1" stroke="#3a3a3a" stroke-width="1.0" />
<line x1="501.59" y1="718.6" x2="501.59" y2="721.1" stroke="#3a3a3a" stroke-width="1.0" />
<line x1="523.41" y1="718.6" x2="523.41" y2="721.1" stroke="#3a3a3a" stroke-width="1.0" />
<line x1="545.23" y1="718.6" x2="545.23" y2="721.1" stroke="#3a3a3a" stroke-width="1.0" />
<line x1="567.05" y1="718.6" x2="567.05" y2="721.1" stroke="#3a3a3a" stroke-width="1.0" />
<line x1="588.87" y1="718.6" x2="588.87" y2="721.1" stroke="#3a3a3a" stroke-width="1.0" />
<line x1="610.69" y1="718.6" x2="610.69" y2="721.1" stroke="#3a3a3a" stroke-width="1.0" />
<line x1="632.51" y1="718.6" x2="632.51" y2="721.1" stroke="#3a3a3a" stroke-width="1.0" />
<line x1="654.33" y1="718.6" x2="654.33" y2="721.1" stroke="#3a3a3a" stroke-width="1.0" />
<line x1="676.15" y1="718.6" x2="676.15" y2="721.1" stroke="#3a3a3a" stroke-width="1.0" />
<line x1="388.5" y1="718.6" x2="392.5" y2="718.6" stroke="#3a3a3a" stroke-width="1.0" />
<line x1="388.5" y1="683.55" x2="392.5" y2="683.55" stroke="#3a3a3a" stroke-width="1.0" />
<line x1="388.5" y1="648.5" x2="392.5" y2="648.5" stroke="#3a3a3a" stroke-width="1.0" />
<line x1="388.5" y1="613.45" x2="392.5" y2="613.45" stroke="#3a3a3a" stroke-width="1.0" />
<line x1="388.5" y1="578.4" x2="392.5" y2="578.4" stroke="#3a3a3a" stroke-width="1.0" />
<line x1="388.5" y1="543.35" x2="392.5" y2="543.35" stroke="#3a3a3a" stroke-width="1.0" />
<line x1="388.5" y1="508.3" x2="392.5" y2="508.3" stroke="#3a3a3a" stroke-width="1.0" />
<line x1="390" y1="701.08" x2="392.5" y2="701.08" stroke="#3a3a3a" stroke-width="1.0" />
<line x1="390" y1="666.02" x2="392.5" y2="666.02" stroke="#3a3a3a" stroke-width="1.0" />
<line x1="390" y1="630.98" x2="392.5" y2="630.98" stroke="#3a3a3a" stroke-width="1.0" />
<line x1="390" y1="595.93" x2="392.5" y2="595.93" stroke="#3a3a3a" stroke-width="1.0" />
<line x1="390" y1="560.88" x2="392.5" y2="560.88" stroke="#3a3a3a" stroke-width="1.0" />
<line x1="390" y1="525.83" x2="392.5" y2="525.83" stroke="#3a3a3a" stroke-width="1.0" />
<text x="403.4" y="735.5" font-size="12.8" text-anchor="middle" fill="#111" font-weight="normal" >0</text>
<text x="425.22" y="735.5" font-size="12.8" text-anchor="middle" fill="#111" font-weight="normal" >2</text>
<text x="447.04" y="735.5" font-size="12.8" text-anchor="middle" fill="#111" font-weight="normal" >4</text>
<text x="468.86" y="735.5" font-size="12.8" text-anchor="middle" fill="#111" font-weight="normal" >6</text>
<text x="490.68" y="735.5" font-size="12.8" text-anchor="middle" fill="#111" font-weight="normal" >8</text>
<text x="512.5" y="735.5" font-size="12.8" text-anchor="middle" fill="#111" font-weight="normal" >10</text>
<text x="534.32" y="735.5" font-size="12.8" text-anchor="middle" fill="#111" font-weight="normal" >12</text>
<text x="556.14" y="735.5" font-size="12.8" text-anchor="middle" fill="#111" font-weight="normal" >14</text>
<text x="577.96" y="735.5" font-size="12.8" text-anchor="middle" fill="#111" font-weight="normal" >16</text>
<text x="599.78" y="735.5" font-size="12.8" text-anchor="middle" fill="#111" font-weight="normal" >18</text>
<text x="621.6" y="735.5" font-size="12.8" text-anchor="middle" fill="#111" font-weight="normal" >20</text>
<text x="643.42" y="735.5" font-size="12.8" text-anchor="middle" fill="#111" font-weight="normal" >22</text>
<text x="665.24" y="735.5" font-size="12.8" text-anchor="middle" fill="#111" font-weight="normal" >24</text>
<text x="386.3" y="722.1" font-size="12.8" text-anchor="end" fill="#111" font-weight="normal" >0</text>
<text x="386.3" y="687.05" font-size="12.8" text-anchor="end" fill="#111" font-weight="normal" >10</text>
<text x="386.3" y="652" font-size="12.8" text-anchor="end" fill="#111" font-weight="normal" >20</text>
<text x="386.3" y="616.95" font-size="12.8" text-anchor="end" fill="#111" font-weight="normal" >30</text>
<text x="386.3" y="581.9" font-size="12.8" text-anchor="end" fill="#111" font-weight="normal" >40</text>
<text x="386.3" y="546.85" font-size="12.8" text-anchor="end" fill="#111" font-weight="normal" >50</text>
<text x="386.3" y="511.8" font-size="12.8" text-anchor="end" fill="#111" font-weight="normal" >60</text>
<text x="538" y="748.6" font-size="12.8" text-anchor="middle" fill="#111" font-weight="normal" >t / h</text>
<text transform="translate(366.6,612) rotate(-90)" font-size="12.8" text-anchor="middle" fill="#111">Total ions dissolved / &#956;g</text>
<line x1="399" y1="523" x2="421" y2="523" stroke="#fa7478" stroke-width="1.3" />
<g stroke="#f77a7e" stroke-width="1.1" fill="none" opacity="0.9"><rect x="405.8" y="518.8" width="8.4" height="8.4"/><path d="M405.8,518.8 L414.2,527.2 M414.2,518.8 L405.8,527.2"/></g>
<text x="424.5" y="527.3" font-size="12.8" text-anchor="start" fill="#111" font-weight="normal" >Pt-RuO<tspan font-size="7.3" baseline-shift="-4.6">2</tspan></text>
<line x1="399" y1="542" x2="421" y2="542" stroke="#66b8f4" stroke-width="1.3" />
<g stroke="#6cbcf0" stroke-width="1.1" fill="none" opacity="0.9"><rect x="405.8" y="537.8" width="8.4" height="8.4"/><path d="M405.8,537.8 L414.2,546.2 M414.2,537.8 L405.8,546.2"/></g>
<text x="424.5" y="546.3" font-size="12.8" text-anchor="start" fill="#111" font-weight="normal" >RuO<tspan font-size="7.3" baseline-shift="-4.6">2</tspan></text>
<text x="533.8" y="637.9" font-size="12.8" text-anchor="middle" fill="#111" font-weight="normal" >2.5 mg<tspan font-size="7" baseline-shift="-4.6">cat</tspan>cm<tspan font-size="7.8" baseline-shift="6.3">&#8722;2</tspan></text>
<text x="539.5" y="656.8" font-size="12.8" text-anchor="middle" fill="#111" font-weight="normal" >Coated on&#160; carbon parper</text>
<text x="535.2" y="673.9" font-size="12.8" text-anchor="middle" fill="#111" font-weight="normal" >@10 mA cm<tspan font-size="7.8" baseline-shift="6.3">&#8722;2</tspan></text>
</svg></body></html>
